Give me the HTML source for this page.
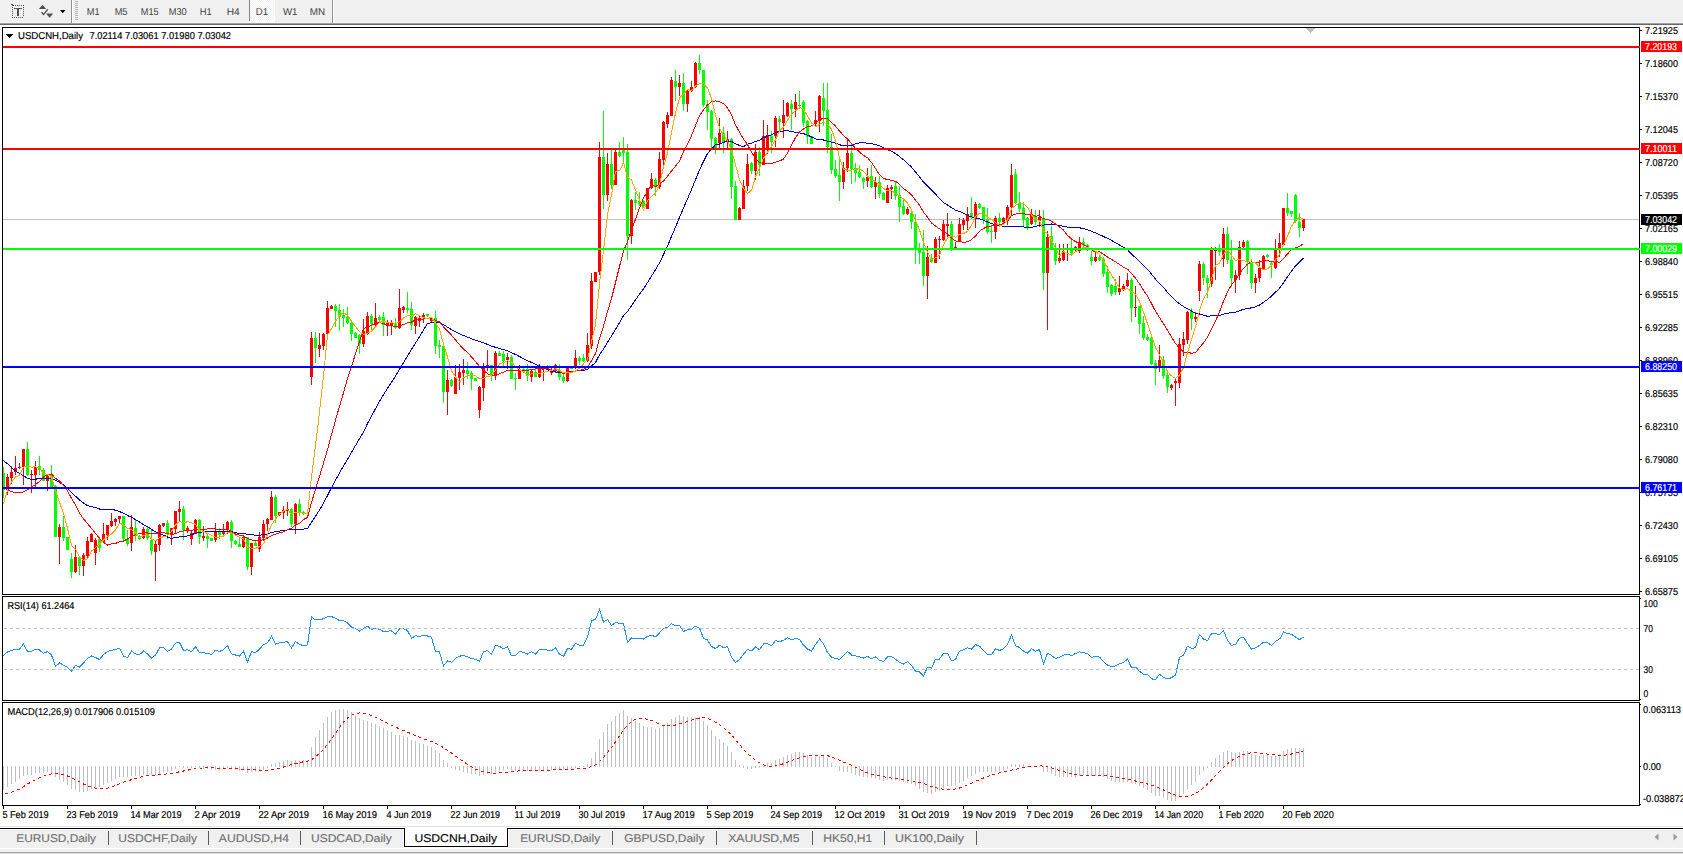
<!DOCTYPE html>
<html><head><meta charset="utf-8"><title>USDCNH,Daily</title>
<style>html,body{margin:0;padding:0;background:#fff;overflow:hidden}svg{display:block}body{font-family:"Liberation Sans",sans-serif}</style>
</head><body>
<svg width="1683" height="854" viewBox="0 0 1683 854" font-family="Liberation Sans, sans-serif" shape-rendering="crispEdges" text-rendering="geometricPrecision">
<rect x="0" y="0" width="1683" height="854" fill="#fff" />
<rect x="0" y="0" width="1683" height="23" fill="#f0f0f0" />
<rect x="0" y="22" width="1683" height="1" fill="#f6f6f6" />
<rect x="0" y="23" width="1683" height="1" fill="#a0a0a0" />
<rect x="0" y="24" width="1683" height="1" fill="#696969" />
<rect x="71" y="0" width="1" height="23" fill="#909090" />
<rect x="72" y="0" width="1" height="23" fill="#fff" />
<rect x="75" y="1" width="3" height="1" fill="#b4b4b4" />
<rect x="75" y="3" width="3" height="1" fill="#b4b4b4" />
<rect x="75" y="5" width="3" height="1" fill="#b4b4b4" />
<rect x="75" y="7" width="3" height="1" fill="#b4b4b4" />
<rect x="75" y="9" width="3" height="1" fill="#b4b4b4" />
<rect x="75" y="11" width="3" height="1" fill="#b4b4b4" />
<rect x="75" y="13" width="3" height="1" fill="#b4b4b4" />
<rect x="75" y="15" width="3" height="1" fill="#b4b4b4" />
<rect x="75" y="17" width="3" height="1" fill="#b4b4b4" />
<rect x="75" y="19" width="3" height="1" fill="#b4b4b4" />
<defs><pattern id="chk" width="2" height="2" patternUnits="userSpaceOnUse"><rect width="2" height="2" fill="#f0f0f0"/><rect width="1" height="1" fill="#fff"/><rect x="1" y="1" width="1" height="1" fill="#fff"/></pattern></defs>
<rect x="250" y="0" width="24" height="21" fill="url(#chk)" />
<rect x="249" y="0" width="1" height="21" fill="#808080" />
<rect x="249" y="21" width="26" height="1" fill="#fff" />
<rect x="274" y="0" width="1" height="22" fill="#fff" />
<rect x="332" y="0" width="1" height="23" fill="#909090" />
<rect x="333" y="0" width="1" height="23" fill="#fff" />
<rect x="15" y="5" width="1" height="1" fill="#505050" />
<rect x="17" y="5" width="1" height="1" fill="#505050" />
<rect x="19" y="5" width="1" height="1" fill="#505050" />
<rect x="21" y="5" width="1" height="1" fill="#505050" />
<rect x="23" y="5" width="1" height="1" fill="#505050" />
<rect x="12" y="17" width="1" height="1" fill="#505050" />
<rect x="14" y="17" width="1" height="1" fill="#505050" />
<rect x="16" y="17" width="1" height="1" fill="#505050" />
<rect x="18" y="17" width="1" height="1" fill="#505050" />
<rect x="20" y="17" width="1" height="1" fill="#505050" />
<rect x="22" y="17" width="1" height="1" fill="#505050" />
<rect x="12" y="7" width="1" height="1" fill="#505050" />
<rect x="23" y="7" width="1" height="1" fill="#505050" />
<rect x="12" y="9" width="1" height="1" fill="#505050" />
<rect x="23" y="9" width="1" height="1" fill="#505050" />
<rect x="12" y="11" width="1" height="1" fill="#505050" />
<rect x="23" y="11" width="1" height="1" fill="#505050" />
<rect x="12" y="13" width="1" height="1" fill="#505050" />
<rect x="23" y="13" width="1" height="1" fill="#505050" />
<rect x="12" y="15" width="1" height="1" fill="#505050" />
<rect x="23" y="15" width="1" height="1" fill="#505050" />
<rect x="11" y="4" width="2" height="1" fill="#505050" />
<rect x="12" y="5" width="2" height="1" fill="#505050" />
<rect x="14" y="8" width="8" height="1" fill="#505050" />
<rect x="17" y="8" width="2" height="8" fill="#505050" />
<path d="M38.8 9 L42.5 4.8 L46.2 9 Z" fill="#505050" shape-rendering="auto"/>
<path d="M46 13.4 L53.2 13.4 L49.6 17.8 Z" fill="#505050" shape-rendering="auto"/>
<path d="M41.5 12.2 L43.6 14.5 L47.8 9.3" stroke="#505050" stroke-width="1.3" fill="none" shape-rendering="auto"/>
<path d="M60 10 L65.5 10 L62.75 13.2 Z" fill="#000" shape-rendering="auto"/>
<text x="86.7" y="15" font-size="10" fill="#404040" stroke="#404040" stroke-width="0" textLength="12.9" lengthAdjust="spacingAndGlyphs" >M1</text>
<text x="114.7" y="15" font-size="10" fill="#404040" stroke="#404040" stroke-width="0" textLength="12.8" lengthAdjust="spacingAndGlyphs" >M5</text>
<text x="140.8" y="15" font-size="10" fill="#404040" stroke="#404040" stroke-width="0" textLength="17.9" lengthAdjust="spacingAndGlyphs" >M15</text>
<text x="168.7" y="15" font-size="10" fill="#404040" stroke="#404040" stroke-width="0" textLength="18.0" lengthAdjust="spacingAndGlyphs" >M30</text>
<text x="199.7" y="15" font-size="10" fill="#404040" stroke="#404040" stroke-width="0" textLength="12.0" lengthAdjust="spacingAndGlyphs" >H1</text>
<text x="226.7" y="15" font-size="10" fill="#404040" stroke="#404040" stroke-width="0" textLength="13.0" lengthAdjust="spacingAndGlyphs" >H4</text>
<text x="255.8" y="15" font-size="10" fill="#404040" stroke="#404040" stroke-width="0" textLength="12.2" lengthAdjust="spacingAndGlyphs" >D1</text>
<text x="283" y="15" font-size="10" fill="#404040" stroke="#404040" stroke-width="0" textLength="14.5" lengthAdjust="spacingAndGlyphs" >W1</text>
<text x="309.7" y="15" font-size="10" fill="#404040" stroke="#404040" stroke-width="0" textLength="15.3" lengthAdjust="spacingAndGlyphs" >MN</text>
<defs><clipPath id="indclip"><rect x="3" y="597" width="1636" height="208"/></clipPath></defs>
<defs><clipPath id="mainclip"><rect x="3" y="28" width="1636" height="566"/></clipPath></defs>
<rect x="1640" y="30" width="2" height="1" fill="#000" />
<text x="1645" y="34" font-size="10" fill="#000" stroke="#000" stroke-width="0.18" textLength="33" lengthAdjust="spacingAndGlyphs" >7.21925</text>
<rect x="1640" y="63" width="2" height="1" fill="#000" />
<text x="1645" y="67" font-size="10" fill="#000" stroke="#000" stroke-width="0.18" textLength="33" lengthAdjust="spacingAndGlyphs" >7.18600</text>
<rect x="1640" y="96" width="2" height="1" fill="#000" />
<text x="1645" y="100" font-size="10" fill="#000" stroke="#000" stroke-width="0.18" textLength="33" lengthAdjust="spacingAndGlyphs" >7.15370</text>
<rect x="1640" y="129" width="2" height="1" fill="#000" />
<text x="1645" y="133" font-size="10" fill="#000" stroke="#000" stroke-width="0.18" textLength="33" lengthAdjust="spacingAndGlyphs" >7.12045</text>
<rect x="1640" y="162" width="2" height="1" fill="#000" />
<text x="1645" y="166" font-size="10" fill="#000" stroke="#000" stroke-width="0.18" textLength="33" lengthAdjust="spacingAndGlyphs" >7.08720</text>
<rect x="1640" y="195" width="2" height="1" fill="#000" />
<text x="1645" y="199" font-size="10" fill="#000" stroke="#000" stroke-width="0.18" textLength="33" lengthAdjust="spacingAndGlyphs" >7.05395</text>
<rect x="1640" y="228" width="2" height="1" fill="#000" />
<text x="1645" y="232" font-size="10" fill="#000" stroke="#000" stroke-width="0.18" textLength="33" lengthAdjust="spacingAndGlyphs" >7.02165</text>
<rect x="1640" y="261" width="2" height="1" fill="#000" />
<text x="1645" y="265" font-size="10" fill="#000" stroke="#000" stroke-width="0.18" textLength="33" lengthAdjust="spacingAndGlyphs" >6.98840</text>
<rect x="1640" y="294" width="2" height="1" fill="#000" />
<text x="1645" y="298" font-size="10" fill="#000" stroke="#000" stroke-width="0.18" textLength="33" lengthAdjust="spacingAndGlyphs" >6.95515</text>
<rect x="1640" y="327" width="2" height="1" fill="#000" />
<text x="1645" y="331" font-size="10" fill="#000" stroke="#000" stroke-width="0.18" textLength="33" lengthAdjust="spacingAndGlyphs" >6.92285</text>
<rect x="1640" y="360" width="2" height="1" fill="#000" />
<text x="1645" y="364" font-size="10" fill="#000" stroke="#000" stroke-width="0.18" textLength="33" lengthAdjust="spacingAndGlyphs" >6.88960</text>
<rect x="1640" y="393" width="2" height="1" fill="#000" />
<text x="1645" y="397" font-size="10" fill="#000" stroke="#000" stroke-width="0.18" textLength="33" lengthAdjust="spacingAndGlyphs" >6.85635</text>
<rect x="1640" y="426" width="2" height="1" fill="#000" />
<text x="1645" y="430" font-size="10" fill="#000" stroke="#000" stroke-width="0.18" textLength="33" lengthAdjust="spacingAndGlyphs" >6.82310</text>
<rect x="1640" y="459" width="2" height="1" fill="#000" />
<text x="1645" y="463" font-size="10" fill="#000" stroke="#000" stroke-width="0.18" textLength="33" lengthAdjust="spacingAndGlyphs" >6.79080</text>
<rect x="1640" y="492" width="2" height="1" fill="#000" />
<text x="1645" y="496" font-size="10" fill="#000" stroke="#000" stroke-width="0.18" textLength="33" lengthAdjust="spacingAndGlyphs" >6.75755</text>
<rect x="1640" y="525" width="2" height="1" fill="#000" />
<text x="1645" y="529" font-size="10" fill="#000" stroke="#000" stroke-width="0.18" textLength="33" lengthAdjust="spacingAndGlyphs" >6.72430</text>
<rect x="1640" y="558" width="2" height="1" fill="#000" />
<text x="1645" y="562" font-size="10" fill="#000" stroke="#000" stroke-width="0.18" textLength="33" lengthAdjust="spacingAndGlyphs" >6.69105</text>
<rect x="1640" y="591" width="2" height="1" fill="#000" />
<text x="1645" y="595" font-size="10" fill="#000" stroke="#000" stroke-width="0.18" textLength="33" lengthAdjust="spacingAndGlyphs" >6.65875</text>
<rect x="3" y="219" width="1636" height="1" fill="#c0c0c0" />
<rect x="3" y="467" width="1" height="31" fill="#00ff00"/>
<rect x="2" y="473" width="3" height="17" fill="#00ff00"/>
<rect x="7" y="474" width="1" height="21" fill="#ff0000"/>
<rect x="6" y="477" width="3" height="11" fill="#ff0000"/>
<rect x="11" y="466" width="1" height="18" fill="#ff0000"/>
<rect x="10" y="472" width="3" height="6" fill="#ff0000"/>
<rect x="15" y="456" width="1" height="19" fill="#ff0000"/>
<rect x="14" y="468" width="3" height="4" fill="#ff0000"/>
<rect x="19" y="463" width="1" height="6" fill="#ff0000"/>
<rect x="18" y="467" width="3" height="1" fill="#ff0000"/>
<rect x="23" y="449" width="1" height="36" fill="#ff0000"/>
<rect x="22" y="449" width="3" height="18" fill="#ff0000"/>
<rect x="27" y="442" width="1" height="34" fill="#00ff00"/>
<rect x="26" y="449" width="3" height="26" fill="#00ff00"/>
<rect x="31" y="470" width="1" height="23" fill="#ff0000"/>
<rect x="30" y="474" width="3" height="1" fill="#ff0000"/>
<rect x="35" y="461" width="1" height="26" fill="#ff0000"/>
<rect x="34" y="467" width="3" height="8" fill="#ff0000"/>
<rect x="39" y="456" width="1" height="19" fill="#00ff00"/>
<rect x="38" y="466" width="3" height="4" fill="#00ff00"/>
<rect x="43" y="468" width="1" height="13" fill="#00ff00"/>
<rect x="42" y="470" width="3" height="11" fill="#00ff00"/>
<rect x="47" y="474" width="1" height="17" fill="#ff0000"/>
<rect x="46" y="476" width="3" height="5" fill="#ff0000"/>
<rect x="51" y="465" width="1" height="23" fill="#00ff00"/>
<rect x="50" y="474" width="3" height="13" fill="#00ff00"/>
<rect x="55" y="485" width="1" height="52" fill="#00ff00"/>
<rect x="54" y="486" width="3" height="51" fill="#00ff00"/>
<rect x="59" y="524" width="1" height="40" fill="#ff0000"/>
<rect x="58" y="527" width="3" height="10" fill="#ff0000"/>
<rect x="63" y="516" width="1" height="25" fill="#00ff00"/>
<rect x="62" y="527" width="3" height="11" fill="#00ff00"/>
<rect x="67" y="537" width="1" height="13" fill="#00ff00"/>
<rect x="66" y="537" width="3" height="13" fill="#00ff00"/>
<rect x="71" y="553" width="1" height="25" fill="#00ff00"/>
<rect x="70" y="559" width="3" height="13" fill="#00ff00"/>
<rect x="75" y="545" width="1" height="28" fill="#ff0000"/>
<rect x="74" y="557" width="3" height="15" fill="#ff0000"/>
<rect x="79" y="556" width="1" height="19" fill="#00ff00"/>
<rect x="78" y="557" width="3" height="9" fill="#00ff00"/>
<rect x="83" y="553" width="1" height="23" fill="#ff0000"/>
<rect x="82" y="555" width="3" height="11" fill="#ff0000"/>
<rect x="87" y="537" width="1" height="22" fill="#ff0000"/>
<rect x="86" y="541" width="3" height="15" fill="#ff0000"/>
<rect x="91" y="533" width="1" height="9" fill="#ff0000"/>
<rect x="90" y="534" width="3" height="8" fill="#ff0000"/>
<rect x="95" y="538" width="1" height="27" fill="#ff0000"/>
<rect x="94" y="540" width="3" height="13" fill="#ff0000"/>
<rect x="99" y="537" width="1" height="15" fill="#00ff00"/>
<rect x="98" y="539" width="3" height="9" fill="#00ff00"/>
<rect x="103" y="523" width="1" height="19" fill="#ff0000"/>
<rect x="102" y="534" width="3" height="8" fill="#ff0000"/>
<rect x="107" y="525" width="1" height="15" fill="#ff0000"/>
<rect x="106" y="525" width="3" height="10" fill="#ff0000"/>
<rect x="111" y="513" width="1" height="14" fill="#ff0000"/>
<rect x="110" y="521" width="3" height="5" fill="#ff0000"/>
<rect x="115" y="518" width="1" height="8" fill="#ff0000"/>
<rect x="114" y="519" width="3" height="3" fill="#ff0000"/>
<rect x="119" y="516" width="1" height="7" fill="#ff0000"/>
<rect x="118" y="516" width="3" height="3" fill="#ff0000"/>
<rect x="123" y="516" width="1" height="24" fill="#00ff00"/>
<rect x="122" y="516" width="3" height="23" fill="#00ff00"/>
<rect x="127" y="530" width="1" height="16" fill="#00ff00"/>
<rect x="126" y="539" width="3" height="5" fill="#00ff00"/>
<rect x="131" y="515" width="1" height="36" fill="#ff0000"/>
<rect x="130" y="527" width="3" height="16" fill="#ff0000"/>
<rect x="135" y="519" width="1" height="22" fill="#00ff00"/>
<rect x="134" y="528" width="3" height="8" fill="#00ff00"/>
<rect x="139" y="535" width="1" height="5" fill="#00ff00"/>
<rect x="138" y="536" width="3" height="3" fill="#00ff00"/>
<rect x="143" y="527" width="1" height="12" fill="#ff0000"/>
<rect x="142" y="529" width="3" height="9" fill="#ff0000"/>
<rect x="147" y="526" width="1" height="14" fill="#00ff00"/>
<rect x="146" y="529" width="3" height="9" fill="#00ff00"/>
<rect x="151" y="529" width="1" height="26" fill="#00ff00"/>
<rect x="150" y="540" width="3" height="11" fill="#00ff00"/>
<rect x="155" y="541" width="1" height="40" fill="#ff0000"/>
<rect x="154" y="544" width="3" height="8" fill="#ff0000"/>
<rect x="159" y="524" width="1" height="27" fill="#ff0000"/>
<rect x="158" y="525" width="3" height="20" fill="#ff0000"/>
<rect x="163" y="523" width="1" height="4" fill="#ff0000"/>
<rect x="162" y="523" width="3" height="3" fill="#ff0000"/>
<rect x="167" y="520" width="1" height="19" fill="#00ff00"/>
<rect x="166" y="523" width="3" height="11" fill="#00ff00"/>
<rect x="171" y="528" width="1" height="17" fill="#ff0000"/>
<rect x="170" y="528" width="3" height="7" fill="#ff0000"/>
<rect x="175" y="511" width="1" height="23" fill="#ff0000"/>
<rect x="174" y="511" width="3" height="18" fill="#ff0000"/>
<rect x="179" y="501" width="1" height="21" fill="#ff0000"/>
<rect x="178" y="509" width="3" height="3" fill="#ff0000"/>
<rect x="183" y="506" width="1" height="34" fill="#00ff00"/>
<rect x="182" y="509" width="3" height="21" fill="#00ff00"/>
<rect x="187" y="526" width="1" height="7" fill="#ff0000"/>
<rect x="186" y="528" width="3" height="3" fill="#ff0000"/>
<rect x="191" y="530" width="1" height="15" fill="#ff0000"/>
<rect x="190" y="533" width="3" height="6" fill="#ff0000"/>
<rect x="195" y="519" width="1" height="14" fill="#ff0000"/>
<rect x="194" y="520" width="3" height="13" fill="#ff0000"/>
<rect x="199" y="519" width="1" height="25" fill="#00ff00"/>
<rect x="198" y="520" width="3" height="17" fill="#00ff00"/>
<rect x="203" y="526" width="1" height="15" fill="#ff0000"/>
<rect x="202" y="536" width="3" height="2" fill="#ff0000"/>
<rect x="207" y="534" width="1" height="14" fill="#00ff00"/>
<rect x="206" y="536" width="3" height="3" fill="#00ff00"/>
<rect x="211" y="538" width="1" height="3" fill="#00ff00"/>
<rect x="210" y="538" width="3" height="3" fill="#00ff00"/>
<rect x="215" y="523" width="1" height="19" fill="#ff0000"/>
<rect x="214" y="532" width="3" height="8" fill="#ff0000"/>
<rect x="219" y="528" width="1" height="11" fill="#00ff00"/>
<rect x="218" y="531" width="3" height="4" fill="#00ff00"/>
<rect x="223" y="524" width="1" height="11" fill="#ff0000"/>
<rect x="222" y="531" width="3" height="3" fill="#ff0000"/>
<rect x="227" y="521" width="1" height="13" fill="#ff0000"/>
<rect x="226" y="522" width="3" height="7" fill="#ff0000"/>
<rect x="231" y="520" width="1" height="28" fill="#00ff00"/>
<rect x="230" y="522" width="3" height="19" fill="#00ff00"/>
<rect x="235" y="540" width="1" height="5" fill="#00ff00"/>
<rect x="234" y="541" width="3" height="3" fill="#00ff00"/>
<rect x="239" y="538" width="1" height="9" fill="#00ff00"/>
<rect x="238" y="544" width="3" height="3" fill="#00ff00"/>
<rect x="243" y="536" width="1" height="12" fill="#ff0000"/>
<rect x="242" y="537" width="3" height="10" fill="#ff0000"/>
<rect x="247" y="537" width="1" height="33" fill="#00ff00"/>
<rect x="246" y="537" width="3" height="30" fill="#00ff00"/>
<rect x="251" y="543" width="1" height="32" fill="#ff0000"/>
<rect x="250" y="543" width="3" height="24" fill="#ff0000"/>
<rect x="255" y="540" width="1" height="6" fill="#00ff00"/>
<rect x="254" y="543" width="3" height="3" fill="#00ff00"/>
<rect x="259" y="532" width="1" height="20" fill="#ff0000"/>
<rect x="258" y="537" width="3" height="12" fill="#ff0000"/>
<rect x="263" y="520" width="1" height="21" fill="#ff0000"/>
<rect x="262" y="524" width="3" height="14" fill="#ff0000"/>
<rect x="267" y="518" width="1" height="13" fill="#ff0000"/>
<rect x="266" y="519" width="3" height="5" fill="#ff0000"/>
<rect x="271" y="491" width="1" height="29" fill="#ff0000"/>
<rect x="270" y="497" width="3" height="23" fill="#ff0000"/>
<rect x="275" y="495" width="1" height="28" fill="#00ff00"/>
<rect x="274" y="497" width="3" height="19" fill="#00ff00"/>
<rect x="279" y="512" width="1" height="4" fill="#ff0000"/>
<rect x="278" y="512" width="3" height="3" fill="#ff0000"/>
<rect x="283" y="506" width="1" height="13" fill="#ff0000"/>
<rect x="282" y="510" width="3" height="3" fill="#ff0000"/>
<rect x="287" y="502" width="1" height="14" fill="#ff0000"/>
<rect x="286" y="509" width="3" height="2" fill="#ff0000"/>
<rect x="291" y="508" width="1" height="19" fill="#00ff00"/>
<rect x="290" y="509" width="3" height="15" fill="#00ff00"/>
<rect x="295" y="503" width="1" height="31" fill="#ff0000"/>
<rect x="294" y="504" width="3" height="20" fill="#ff0000"/>
<rect x="299" y="499" width="1" height="17" fill="#00ff00"/>
<rect x="298" y="504" width="3" height="8" fill="#00ff00"/>
<rect x="303" y="511" width="1" height="4" fill="#00ff00"/>
<rect x="302" y="512" width="3" height="2" fill="#00ff00"/>
<rect x="307" y="513" width="1" height="1" fill="#ff0000"/>
<rect x="306" y="513" width="3" height="1" fill="#ff0000"/>
<rect x="311" y="332" width="1" height="53" fill="#ff0000"/>
<rect x="310" y="338" width="3" height="39" fill="#ff0000"/>
<rect x="315" y="332" width="1" height="31" fill="#00ff00"/>
<rect x="314" y="338" width="3" height="10" fill="#00ff00"/>
<rect x="319" y="333" width="1" height="24" fill="#ff0000"/>
<rect x="318" y="345" width="3" height="4" fill="#ff0000"/>
<rect x="323" y="333" width="1" height="17" fill="#ff0000"/>
<rect x="322" y="334" width="3" height="12" fill="#ff0000"/>
<rect x="327" y="301" width="1" height="33" fill="#ff0000"/>
<rect x="326" y="308" width="3" height="26" fill="#ff0000"/>
<rect x="331" y="305" width="1" height="4" fill="#ff0000"/>
<rect x="330" y="306" width="3" height="3" fill="#ff0000"/>
<rect x="335" y="304" width="1" height="23" fill="#00ff00"/>
<rect x="334" y="306" width="3" height="5" fill="#00ff00"/>
<rect x="339" y="304" width="1" height="27" fill="#00ff00"/>
<rect x="338" y="310" width="3" height="7" fill="#00ff00"/>
<rect x="343" y="309" width="1" height="18" fill="#00ff00"/>
<rect x="342" y="315" width="3" height="3" fill="#00ff00"/>
<rect x="347" y="307" width="1" height="17" fill="#00ff00"/>
<rect x="346" y="317" width="3" height="6" fill="#00ff00"/>
<rect x="351" y="322" width="1" height="19" fill="#00ff00"/>
<rect x="350" y="323" width="3" height="11" fill="#00ff00"/>
<rect x="355" y="332" width="1" height="6" fill="#00ff00"/>
<rect x="354" y="333" width="3" height="5" fill="#00ff00"/>
<rect x="359" y="334" width="1" height="20" fill="#00ff00"/>
<rect x="358" y="335" width="3" height="9" fill="#00ff00"/>
<rect x="363" y="319" width="1" height="28" fill="#ff0000"/>
<rect x="362" y="331" width="3" height="13" fill="#ff0000"/>
<rect x="367" y="312" width="1" height="23" fill="#ff0000"/>
<rect x="366" y="316" width="3" height="18" fill="#ff0000"/>
<rect x="371" y="314" width="1" height="16" fill="#00ff00"/>
<rect x="370" y="316" width="3" height="8" fill="#00ff00"/>
<rect x="375" y="303" width="1" height="24" fill="#ff0000"/>
<rect x="374" y="318" width="3" height="7" fill="#ff0000"/>
<rect x="379" y="315" width="1" height="7" fill="#00ff00"/>
<rect x="378" y="317" width="3" height="3" fill="#00ff00"/>
<rect x="383" y="312" width="1" height="24" fill="#00ff00"/>
<rect x="382" y="317" width="3" height="8" fill="#00ff00"/>
<rect x="387" y="320" width="1" height="16" fill="#ff0000"/>
<rect x="386" y="323" width="3" height="3" fill="#ff0000"/>
<rect x="391" y="320" width="1" height="15" fill="#ff0000"/>
<rect x="390" y="322" width="3" height="4" fill="#ff0000"/>
<rect x="395" y="318" width="1" height="11" fill="#00ff00"/>
<rect x="394" y="323" width="3" height="5" fill="#00ff00"/>
<rect x="399" y="289" width="1" height="40" fill="#ff0000"/>
<rect x="398" y="308" width="3" height="20" fill="#ff0000"/>
<rect x="403" y="306" width="1" height="7" fill="#ff0000"/>
<rect x="402" y="307" width="3" height="3" fill="#ff0000"/>
<rect x="407" y="292" width="1" height="21" fill="#00ff00"/>
<rect x="406" y="308" width="3" height="2" fill="#00ff00"/>
<rect x="411" y="302" width="1" height="28" fill="#00ff00"/>
<rect x="410" y="309" width="3" height="16" fill="#00ff00"/>
<rect x="415" y="316" width="1" height="18" fill="#ff0000"/>
<rect x="414" y="317" width="3" height="9" fill="#ff0000"/>
<rect x="419" y="316" width="1" height="11" fill="#ff0000"/>
<rect x="418" y="318" width="3" height="3" fill="#ff0000"/>
<rect x="423" y="313" width="1" height="10" fill="#ff0000"/>
<rect x="422" y="315" width="3" height="2" fill="#ff0000"/>
<rect x="427" y="314" width="1" height="3" fill="#00ff00"/>
<rect x="426" y="314" width="3" height="2" fill="#00ff00"/>
<rect x="431" y="317" width="1" height="5" fill="#ff0000"/>
<rect x="430" y="318" width="3" height="3" fill="#ff0000"/>
<rect x="435" y="311" width="1" height="43" fill="#00ff00"/>
<rect x="434" y="318" width="3" height="28" fill="#00ff00"/>
<rect x="439" y="340" width="1" height="18" fill="#00ff00"/>
<rect x="438" y="345" width="3" height="2" fill="#00ff00"/>
<rect x="443" y="345" width="1" height="58" fill="#00ff00"/>
<rect x="442" y="346" width="3" height="46" fill="#00ff00"/>
<rect x="447" y="370" width="1" height="45" fill="#ff0000"/>
<rect x="446" y="380" width="3" height="12" fill="#ff0000"/>
<rect x="451" y="379" width="1" height="8" fill="#00ff00"/>
<rect x="450" y="380" width="3" height="6" fill="#00ff00"/>
<rect x="455" y="365" width="1" height="29" fill="#ff0000"/>
<rect x="454" y="377" width="3" height="17" fill="#ff0000"/>
<rect x="459" y="364" width="1" height="26" fill="#ff0000"/>
<rect x="458" y="372" width="3" height="6" fill="#ff0000"/>
<rect x="463" y="359" width="1" height="26" fill="#ff0000"/>
<rect x="462" y="370" width="3" height="3" fill="#ff0000"/>
<rect x="467" y="362" width="1" height="17" fill="#00ff00"/>
<rect x="466" y="370" width="3" height="4" fill="#00ff00"/>
<rect x="471" y="371" width="1" height="19" fill="#00ff00"/>
<rect x="470" y="373" width="3" height="6" fill="#00ff00"/>
<rect x="475" y="378" width="1" height="3" fill="#00ff00"/>
<rect x="474" y="378" width="3" height="3" fill="#00ff00"/>
<rect x="479" y="386" width="1" height="32" fill="#ff0000"/>
<rect x="478" y="387" width="3" height="23" fill="#ff0000"/>
<rect x="483" y="363" width="1" height="38" fill="#ff0000"/>
<rect x="482" y="368" width="3" height="20" fill="#ff0000"/>
<rect x="487" y="350" width="1" height="21" fill="#ff0000"/>
<rect x="486" y="365" width="3" height="3" fill="#ff0000"/>
<rect x="491" y="365" width="1" height="16" fill="#00ff00"/>
<rect x="490" y="365" width="3" height="10" fill="#00ff00"/>
<rect x="495" y="351" width="1" height="29" fill="#ff0000"/>
<rect x="494" y="353" width="3" height="23" fill="#ff0000"/>
<rect x="499" y="351" width="1" height="5" fill="#00ff00"/>
<rect x="498" y="353" width="3" height="3" fill="#00ff00"/>
<rect x="503" y="351" width="1" height="15" fill="#00ff00"/>
<rect x="502" y="354" width="3" height="7" fill="#00ff00"/>
<rect x="507" y="353" width="1" height="16" fill="#ff0000"/>
<rect x="506" y="357" width="3" height="3" fill="#ff0000"/>
<rect x="511" y="355" width="1" height="24" fill="#00ff00"/>
<rect x="510" y="357" width="3" height="22" fill="#00ff00"/>
<rect x="515" y="373" width="1" height="17" fill="#00ff00"/>
<rect x="514" y="378" width="3" height="1" fill="#00ff00"/>
<rect x="519" y="365" width="1" height="14" fill="#ff0000"/>
<rect x="518" y="369" width="3" height="10" fill="#ff0000"/>
<rect x="523" y="368" width="1" height="5" fill="#00ff00"/>
<rect x="522" y="369" width="3" height="3" fill="#00ff00"/>
<rect x="527" y="364" width="1" height="17" fill="#00ff00"/>
<rect x="526" y="369" width="3" height="7" fill="#00ff00"/>
<rect x="531" y="370" width="1" height="12" fill="#ff0000"/>
<rect x="530" y="371" width="3" height="6" fill="#ff0000"/>
<rect x="535" y="369" width="1" height="8" fill="#00ff00"/>
<rect x="534" y="372" width="3" height="5" fill="#00ff00"/>
<rect x="539" y="364" width="1" height="14" fill="#ff0000"/>
<rect x="538" y="368" width="3" height="9" fill="#ff0000"/>
<rect x="543" y="368" width="1" height="13" fill="#ff0000"/>
<rect x="542" y="368" width="3" height="1" fill="#ff0000"/>
<rect x="547" y="365" width="1" height="4" fill="#00ff00"/>
<rect x="546" y="367" width="3" height="2" fill="#00ff00"/>
<rect x="551" y="368" width="1" height="7" fill="#ff0000"/>
<rect x="550" y="370" width="3" height="3" fill="#ff0000"/>
<rect x="555" y="364" width="1" height="9" fill="#ff0000"/>
<rect x="554" y="365" width="3" height="4" fill="#ff0000"/>
<rect x="559" y="364" width="1" height="16" fill="#00ff00"/>
<rect x="558" y="370" width="3" height="7" fill="#00ff00"/>
<rect x="563" y="373" width="1" height="10" fill="#00ff00"/>
<rect x="562" y="377" width="3" height="4" fill="#00ff00"/>
<rect x="567" y="368" width="1" height="14" fill="#ff0000"/>
<rect x="566" y="368" width="3" height="13" fill="#ff0000"/>
<rect x="571" y="367" width="1" height="2" fill="#00ff00"/>
<rect x="570" y="368" width="3" height="1" fill="#00ff00"/>
<rect x="575" y="350" width="1" height="19" fill="#ff0000"/>
<rect x="574" y="358" width="3" height="9" fill="#ff0000"/>
<rect x="579" y="356" width="1" height="9" fill="#00ff00"/>
<rect x="578" y="358" width="3" height="3" fill="#00ff00"/>
<rect x="583" y="354" width="1" height="8" fill="#00ff00"/>
<rect x="582" y="358" width="3" height="3" fill="#00ff00"/>
<rect x="587" y="333" width="1" height="29" fill="#ff0000"/>
<rect x="586" y="345" width="3" height="16" fill="#ff0000"/>
<rect x="591" y="273" width="1" height="76" fill="#ff0000"/>
<rect x="590" y="281" width="3" height="65" fill="#ff0000"/>
<rect x="595" y="272" width="1" height="10" fill="#ff0000"/>
<rect x="594" y="272" width="3" height="10" fill="#ff0000"/>
<rect x="599" y="142" width="1" height="133" fill="#ff0000"/>
<rect x="598" y="157" width="3" height="115" fill="#ff0000"/>
<rect x="603" y="111" width="1" height="98" fill="#00ff00"/>
<rect x="602" y="157" width="3" height="38" fill="#00ff00"/>
<rect x="607" y="153" width="1" height="48" fill="#ff0000"/>
<rect x="606" y="164" width="3" height="31" fill="#ff0000"/>
<rect x="611" y="150" width="1" height="39" fill="#00ff00"/>
<rect x="610" y="164" width="3" height="21" fill="#00ff00"/>
<rect x="615" y="149" width="1" height="36" fill="#ff0000"/>
<rect x="614" y="152" width="3" height="33" fill="#ff0000"/>
<rect x="619" y="142" width="1" height="15" fill="#00ff00"/>
<rect x="618" y="152" width="3" height="4" fill="#00ff00"/>
<rect x="623" y="137" width="1" height="26" fill="#00ff00"/>
<rect x="622" y="149" width="3" height="4" fill="#00ff00"/>
<rect x="627" y="144" width="1" height="116" fill="#00ff00"/>
<rect x="626" y="152" width="3" height="84" fill="#00ff00"/>
<rect x="631" y="199" width="1" height="45" fill="#ff0000"/>
<rect x="630" y="200" width="3" height="36" fill="#ff0000"/>
<rect x="635" y="192" width="1" height="18" fill="#00ff00"/>
<rect x="634" y="200" width="3" height="3" fill="#00ff00"/>
<rect x="639" y="192" width="1" height="14" fill="#00ff00"/>
<rect x="638" y="201" width="3" height="3" fill="#00ff00"/>
<rect x="643" y="200" width="1" height="8" fill="#00ff00"/>
<rect x="642" y="201" width="3" height="5" fill="#00ff00"/>
<rect x="647" y="188" width="1" height="21" fill="#ff0000"/>
<rect x="646" y="188" width="3" height="21" fill="#ff0000"/>
<rect x="651" y="173" width="1" height="16" fill="#ff0000"/>
<rect x="650" y="179" width="3" height="9" fill="#ff0000"/>
<rect x="655" y="178" width="1" height="18" fill="#00ff00"/>
<rect x="654" y="180" width="3" height="6" fill="#00ff00"/>
<rect x="659" y="152" width="1" height="37" fill="#ff0000"/>
<rect x="658" y="159" width="3" height="28" fill="#ff0000"/>
<rect x="663" y="121" width="1" height="44" fill="#ff0000"/>
<rect x="662" y="122" width="3" height="38" fill="#ff0000"/>
<rect x="667" y="112" width="1" height="16" fill="#ff0000"/>
<rect x="666" y="115" width="3" height="9" fill="#ff0000"/>
<rect x="671" y="77" width="1" height="39" fill="#ff0000"/>
<rect x="670" y="80" width="3" height="36" fill="#ff0000"/>
<rect x="675" y="70" width="1" height="31" fill="#00ff00"/>
<rect x="674" y="81" width="3" height="6" fill="#00ff00"/>
<rect x="679" y="75" width="1" height="21" fill="#ff0000"/>
<rect x="678" y="83" width="3" height="4" fill="#ff0000"/>
<rect x="683" y="73" width="1" height="38" fill="#00ff00"/>
<rect x="682" y="83" width="3" height="21" fill="#00ff00"/>
<rect x="687" y="90" width="1" height="22" fill="#ff0000"/>
<rect x="686" y="91" width="3" height="13" fill="#ff0000"/>
<rect x="691" y="81" width="1" height="11" fill="#ff0000"/>
<rect x="690" y="87" width="3" height="4" fill="#ff0000"/>
<rect x="695" y="62" width="1" height="26" fill="#ff0000"/>
<rect x="694" y="63" width="3" height="24" fill="#ff0000"/>
<rect x="699" y="55" width="1" height="19" fill="#00ff00"/>
<rect x="698" y="63" width="3" height="7" fill="#00ff00"/>
<rect x="703" y="70" width="1" height="37" fill="#00ff00"/>
<rect x="702" y="70" width="3" height="35" fill="#00ff00"/>
<rect x="707" y="100" width="1" height="30" fill="#00ff00"/>
<rect x="706" y="104" width="3" height="8" fill="#00ff00"/>
<rect x="711" y="110" width="1" height="38" fill="#00ff00"/>
<rect x="710" y="111" width="3" height="28" fill="#00ff00"/>
<rect x="715" y="137" width="1" height="17" fill="#00ff00"/>
<rect x="714" y="138" width="3" height="10" fill="#00ff00"/>
<rect x="719" y="118" width="1" height="30" fill="#ff0000"/>
<rect x="718" y="133" width="3" height="10" fill="#ff0000"/>
<rect x="723" y="127" width="1" height="26" fill="#00ff00"/>
<rect x="722" y="133" width="3" height="9" fill="#00ff00"/>
<rect x="727" y="131" width="1" height="17" fill="#ff0000"/>
<rect x="726" y="139" width="3" height="3" fill="#ff0000"/>
<rect x="731" y="138" width="1" height="61" fill="#00ff00"/>
<rect x="730" y="139" width="3" height="48" fill="#00ff00"/>
<rect x="735" y="181" width="1" height="39" fill="#00ff00"/>
<rect x="734" y="186" width="3" height="34" fill="#00ff00"/>
<rect x="739" y="207" width="1" height="13" fill="#ff0000"/>
<rect x="738" y="208" width="3" height="12" fill="#ff0000"/>
<rect x="743" y="180" width="1" height="29" fill="#ff0000"/>
<rect x="742" y="186" width="3" height="23" fill="#ff0000"/>
<rect x="747" y="154" width="1" height="37" fill="#ff0000"/>
<rect x="746" y="164" width="3" height="22" fill="#ff0000"/>
<rect x="751" y="162" width="1" height="12" fill="#00ff00"/>
<rect x="750" y="163" width="3" height="8" fill="#00ff00"/>
<rect x="755" y="144" width="1" height="36" fill="#ff0000"/>
<rect x="754" y="152" width="3" height="19" fill="#ff0000"/>
<rect x="759" y="147" width="1" height="29" fill="#00ff00"/>
<rect x="758" y="152" width="3" height="13" fill="#00ff00"/>
<rect x="763" y="120" width="1" height="45" fill="#ff0000"/>
<rect x="762" y="136" width="3" height="29" fill="#ff0000"/>
<rect x="767" y="125" width="1" height="29" fill="#ff0000"/>
<rect x="766" y="135" width="3" height="13" fill="#ff0000"/>
<rect x="771" y="131" width="1" height="22" fill="#00ff00"/>
<rect x="770" y="136" width="3" height="6" fill="#00ff00"/>
<rect x="775" y="116" width="1" height="31" fill="#ff0000"/>
<rect x="774" y="118" width="3" height="18" fill="#ff0000"/>
<rect x="779" y="116" width="1" height="14" fill="#00ff00"/>
<rect x="778" y="119" width="3" height="3" fill="#00ff00"/>
<rect x="783" y="100" width="1" height="38" fill="#ff0000"/>
<rect x="782" y="115" width="3" height="8" fill="#ff0000"/>
<rect x="787" y="102" width="1" height="15" fill="#ff0000"/>
<rect x="786" y="103" width="3" height="13" fill="#ff0000"/>
<rect x="791" y="100" width="1" height="30" fill="#00ff00"/>
<rect x="790" y="104" width="3" height="5" fill="#00ff00"/>
<rect x="795" y="94" width="1" height="23" fill="#ff0000"/>
<rect x="794" y="102" width="3" height="7" fill="#ff0000"/>
<rect x="799" y="91" width="1" height="18" fill="#00ff00"/>
<rect x="798" y="105" width="3" height="1" fill="#00ff00"/>
<rect x="803" y="100" width="1" height="27" fill="#00ff00"/>
<rect x="802" y="102" width="3" height="21" fill="#00ff00"/>
<rect x="807" y="120" width="1" height="24" fill="#00ff00"/>
<rect x="806" y="121" width="3" height="16" fill="#00ff00"/>
<rect x="811" y="136" width="1" height="8" fill="#00ff00"/>
<rect x="810" y="136" width="3" height="8" fill="#00ff00"/>
<rect x="815" y="111" width="1" height="16" fill="#ff0000"/>
<rect x="814" y="120" width="3" height="4" fill="#ff0000"/>
<rect x="819" y="95" width="1" height="37" fill="#ff0000"/>
<rect x="818" y="96" width="3" height="25" fill="#ff0000"/>
<rect x="823" y="83" width="1" height="43" fill="#00ff00"/>
<rect x="822" y="98" width="3" height="13" fill="#00ff00"/>
<rect x="827" y="83" width="1" height="70" fill="#00ff00"/>
<rect x="826" y="110" width="3" height="37" fill="#00ff00"/>
<rect x="831" y="134" width="1" height="40" fill="#00ff00"/>
<rect x="830" y="147" width="3" height="23" fill="#00ff00"/>
<rect x="835" y="160" width="1" height="18" fill="#00ff00"/>
<rect x="834" y="169" width="3" height="7" fill="#00ff00"/>
<rect x="839" y="158" width="1" height="43" fill="#00ff00"/>
<rect x="838" y="175" width="3" height="7" fill="#00ff00"/>
<rect x="843" y="162" width="1" height="27" fill="#ff0000"/>
<rect x="842" y="168" width="3" height="14" fill="#ff0000"/>
<rect x="847" y="138" width="1" height="34" fill="#ff0000"/>
<rect x="846" y="153" width="3" height="15" fill="#ff0000"/>
<rect x="851" y="144" width="1" height="40" fill="#00ff00"/>
<rect x="850" y="153" width="3" height="16" fill="#00ff00"/>
<rect x="855" y="163" width="1" height="19" fill="#00ff00"/>
<rect x="854" y="168" width="3" height="5" fill="#00ff00"/>
<rect x="859" y="165" width="1" height="13" fill="#00ff00"/>
<rect x="858" y="172" width="3" height="5" fill="#00ff00"/>
<rect x="863" y="177" width="1" height="12" fill="#00ff00"/>
<rect x="862" y="178" width="3" height="4" fill="#00ff00"/>
<rect x="867" y="168" width="1" height="19" fill="#ff0000"/>
<rect x="866" y="177" width="3" height="4" fill="#ff0000"/>
<rect x="871" y="165" width="1" height="23" fill="#00ff00"/>
<rect x="870" y="176" width="3" height="11" fill="#00ff00"/>
<rect x="875" y="177" width="1" height="22" fill="#ff0000"/>
<rect x="874" y="182" width="3" height="5" fill="#ff0000"/>
<rect x="879" y="176" width="1" height="22" fill="#00ff00"/>
<rect x="878" y="182" width="3" height="12" fill="#00ff00"/>
<rect x="883" y="192" width="1" height="8" fill="#00ff00"/>
<rect x="882" y="193" width="3" height="7" fill="#00ff00"/>
<rect x="887" y="185" width="1" height="18" fill="#ff0000"/>
<rect x="886" y="188" width="3" height="15" fill="#ff0000"/>
<rect x="891" y="185" width="1" height="14" fill="#ff0000"/>
<rect x="890" y="187" width="3" height="2" fill="#ff0000"/>
<rect x="895" y="181" width="1" height="19" fill="#00ff00"/>
<rect x="894" y="186" width="3" height="10" fill="#00ff00"/>
<rect x="899" y="186" width="1" height="36" fill="#00ff00"/>
<rect x="898" y="195" width="3" height="12" fill="#00ff00"/>
<rect x="903" y="199" width="1" height="16" fill="#00ff00"/>
<rect x="902" y="206" width="3" height="8" fill="#00ff00"/>
<rect x="907" y="207" width="1" height="8" fill="#ff0000"/>
<rect x="906" y="209" width="3" height="5" fill="#ff0000"/>
<rect x="911" y="209" width="1" height="20" fill="#00ff00"/>
<rect x="910" y="213" width="3" height="9" fill="#00ff00"/>
<rect x="915" y="214" width="1" height="50" fill="#00ff00"/>
<rect x="914" y="222" width="3" height="27" fill="#00ff00"/>
<rect x="919" y="243" width="1" height="21" fill="#00ff00"/>
<rect x="918" y="249" width="3" height="4" fill="#00ff00"/>
<rect x="923" y="230" width="1" height="56" fill="#00ff00"/>
<rect x="922" y="252" width="3" height="24" fill="#00ff00"/>
<rect x="927" y="246" width="1" height="53" fill="#ff0000"/>
<rect x="926" y="257" width="3" height="19" fill="#ff0000"/>
<rect x="931" y="254" width="1" height="9" fill="#00ff00"/>
<rect x="930" y="258" width="3" height="4" fill="#00ff00"/>
<rect x="935" y="237" width="1" height="26" fill="#ff0000"/>
<rect x="934" y="239" width="3" height="24" fill="#ff0000"/>
<rect x="939" y="236" width="1" height="23" fill="#ff0000"/>
<rect x="938" y="239" width="3" height="1" fill="#ff0000"/>
<rect x="943" y="220" width="1" height="21" fill="#ff0000"/>
<rect x="942" y="224" width="3" height="16" fill="#ff0000"/>
<rect x="947" y="213" width="1" height="26" fill="#ff0000"/>
<rect x="946" y="224" width="3" height="2" fill="#ff0000"/>
<rect x="951" y="221" width="1" height="30" fill="#00ff00"/>
<rect x="950" y="224" width="3" height="26" fill="#00ff00"/>
<rect x="955" y="242" width="1" height="6" fill="#ff0000"/>
<rect x="954" y="247" width="3" height="1" fill="#ff0000"/>
<rect x="959" y="218" width="1" height="24" fill="#ff0000"/>
<rect x="958" y="224" width="3" height="18" fill="#ff0000"/>
<rect x="963" y="218" width="1" height="12" fill="#ff0000"/>
<rect x="962" y="220" width="3" height="5" fill="#ff0000"/>
<rect x="967" y="207" width="1" height="23" fill="#ff0000"/>
<rect x="966" y="214" width="3" height="7" fill="#ff0000"/>
<rect x="971" y="197" width="1" height="22" fill="#00ff00"/>
<rect x="970" y="213" width="3" height="5" fill="#00ff00"/>
<rect x="975" y="202" width="1" height="26" fill="#ff0000"/>
<rect x="974" y="204" width="3" height="14" fill="#ff0000"/>
<rect x="979" y="203" width="1" height="6" fill="#00ff00"/>
<rect x="978" y="204" width="3" height="4" fill="#00ff00"/>
<rect x="983" y="207" width="1" height="17" fill="#00ff00"/>
<rect x="982" y="207" width="3" height="13" fill="#00ff00"/>
<rect x="987" y="208" width="1" height="26" fill="#00ff00"/>
<rect x="986" y="219" width="3" height="13" fill="#00ff00"/>
<rect x="991" y="226" width="1" height="17" fill="#00ff00"/>
<rect x="990" y="231" width="3" height="1" fill="#00ff00"/>
<rect x="995" y="216" width="1" height="23" fill="#ff0000"/>
<rect x="994" y="218" width="3" height="14" fill="#ff0000"/>
<rect x="999" y="213" width="1" height="14" fill="#00ff00"/>
<rect x="998" y="218" width="3" height="4" fill="#00ff00"/>
<rect x="1003" y="217" width="1" height="6" fill="#ff0000"/>
<rect x="1002" y="218" width="3" height="4" fill="#ff0000"/>
<rect x="1007" y="205" width="1" height="20" fill="#ff0000"/>
<rect x="1006" y="207" width="3" height="14" fill="#ff0000"/>
<rect x="1011" y="164" width="1" height="51" fill="#ff0000"/>
<rect x="1010" y="175" width="3" height="32" fill="#ff0000"/>
<rect x="1015" y="169" width="1" height="35" fill="#00ff00"/>
<rect x="1014" y="174" width="3" height="29" fill="#00ff00"/>
<rect x="1019" y="192" width="1" height="20" fill="#00ff00"/>
<rect x="1018" y="203" width="3" height="6" fill="#00ff00"/>
<rect x="1023" y="202" width="1" height="25" fill="#00ff00"/>
<rect x="1022" y="208" width="3" height="12" fill="#00ff00"/>
<rect x="1027" y="217" width="1" height="13" fill="#00ff00"/>
<rect x="1026" y="218" width="3" height="9" fill="#00ff00"/>
<rect x="1031" y="209" width="1" height="16" fill="#ff0000"/>
<rect x="1030" y="214" width="3" height="10" fill="#ff0000"/>
<rect x="1035" y="210" width="1" height="15" fill="#00ff00"/>
<rect x="1034" y="216" width="3" height="6" fill="#00ff00"/>
<rect x="1039" y="210" width="1" height="17" fill="#ff0000"/>
<rect x="1038" y="217" width="3" height="4" fill="#ff0000"/>
<rect x="1043" y="210" width="1" height="80" fill="#00ff00"/>
<rect x="1042" y="219" width="3" height="54" fill="#00ff00"/>
<rect x="1047" y="231" width="1" height="99" fill="#ff0000"/>
<rect x="1046" y="237" width="3" height="36" fill="#ff0000"/>
<rect x="1051" y="226" width="1" height="23" fill="#00ff00"/>
<rect x="1050" y="236" width="3" height="12" fill="#00ff00"/>
<rect x="1055" y="243" width="1" height="22" fill="#00ff00"/>
<rect x="1054" y="248" width="3" height="13" fill="#00ff00"/>
<rect x="1059" y="244" width="1" height="19" fill="#ff0000"/>
<rect x="1058" y="258" width="3" height="3" fill="#ff0000"/>
<rect x="1063" y="244" width="1" height="17" fill="#ff0000"/>
<rect x="1062" y="251" width="3" height="9" fill="#ff0000"/>
<rect x="1067" y="244" width="1" height="17" fill="#ff0000"/>
<rect x="1066" y="248" width="3" height="2" fill="#ff0000"/>
<rect x="1071" y="239" width="1" height="17" fill="#00ff00"/>
<rect x="1070" y="248" width="3" height="5" fill="#00ff00"/>
<rect x="1075" y="246" width="1" height="5" fill="#ff0000"/>
<rect x="1074" y="247" width="3" height="3" fill="#ff0000"/>
<rect x="1079" y="237" width="1" height="16" fill="#ff0000"/>
<rect x="1078" y="242" width="3" height="9" fill="#ff0000"/>
<rect x="1083" y="238" width="1" height="9" fill="#00ff00"/>
<rect x="1082" y="242" width="3" height="3" fill="#00ff00"/>
<rect x="1087" y="244" width="1" height="7" fill="#00ff00"/>
<rect x="1086" y="245" width="3" height="3" fill="#00ff00"/>
<rect x="1091" y="251" width="1" height="14" fill="#00ff00"/>
<rect x="1090" y="257" width="3" height="4" fill="#00ff00"/>
<rect x="1095" y="252" width="1" height="10" fill="#ff0000"/>
<rect x="1094" y="257" width="3" height="4" fill="#ff0000"/>
<rect x="1099" y="256" width="1" height="5" fill="#00ff00"/>
<rect x="1098" y="257" width="3" height="3" fill="#00ff00"/>
<rect x="1103" y="257" width="1" height="20" fill="#00ff00"/>
<rect x="1102" y="259" width="3" height="15" fill="#00ff00"/>
<rect x="1107" y="266" width="1" height="27" fill="#00ff00"/>
<rect x="1106" y="272" width="3" height="15" fill="#00ff00"/>
<rect x="1111" y="284" width="1" height="12" fill="#00ff00"/>
<rect x="1110" y="285" width="3" height="9" fill="#00ff00"/>
<rect x="1115" y="279" width="1" height="16" fill="#00ff00"/>
<rect x="1114" y="286" width="3" height="6" fill="#00ff00"/>
<rect x="1119" y="276" width="1" height="19" fill="#ff0000"/>
<rect x="1118" y="288" width="3" height="4" fill="#ff0000"/>
<rect x="1123" y="284" width="1" height="7" fill="#ff0000"/>
<rect x="1122" y="286" width="3" height="3" fill="#ff0000"/>
<rect x="1127" y="273" width="1" height="14" fill="#ff0000"/>
<rect x="1126" y="280" width="3" height="6" fill="#ff0000"/>
<rect x="1131" y="278" width="1" height="44" fill="#00ff00"/>
<rect x="1130" y="280" width="3" height="28" fill="#00ff00"/>
<rect x="1135" y="286" width="1" height="31" fill="#ff0000"/>
<rect x="1134" y="307" width="3" height="1" fill="#ff0000"/>
<rect x="1139" y="306" width="1" height="28" fill="#00ff00"/>
<rect x="1138" y="306" width="3" height="18" fill="#00ff00"/>
<rect x="1143" y="316" width="1" height="24" fill="#00ff00"/>
<rect x="1142" y="323" width="3" height="15" fill="#00ff00"/>
<rect x="1147" y="334" width="1" height="7" fill="#00ff00"/>
<rect x="1146" y="337" width="3" height="3" fill="#00ff00"/>
<rect x="1151" y="336" width="1" height="29" fill="#00ff00"/>
<rect x="1150" y="338" width="3" height="26" fill="#00ff00"/>
<rect x="1155" y="360" width="1" height="25" fill="#00ff00"/>
<rect x="1154" y="363" width="3" height="6" fill="#00ff00"/>
<rect x="1159" y="345" width="1" height="27" fill="#ff0000"/>
<rect x="1158" y="360" width="3" height="8" fill="#ff0000"/>
<rect x="1163" y="356" width="1" height="23" fill="#00ff00"/>
<rect x="1162" y="360" width="3" height="16" fill="#00ff00"/>
<rect x="1167" y="371" width="1" height="22" fill="#00ff00"/>
<rect x="1166" y="375" width="3" height="12" fill="#00ff00"/>
<rect x="1171" y="384" width="1" height="6" fill="#ff0000"/>
<rect x="1170" y="385" width="3" height="3" fill="#ff0000"/>
<rect x="1175" y="378" width="1" height="28" fill="#ff0000"/>
<rect x="1174" y="381" width="3" height="2" fill="#ff0000"/>
<rect x="1179" y="338" width="1" height="50" fill="#ff0000"/>
<rect x="1178" y="344" width="3" height="39" fill="#ff0000"/>
<rect x="1183" y="332" width="1" height="24" fill="#ff0000"/>
<rect x="1182" y="339" width="3" height="6" fill="#ff0000"/>
<rect x="1187" y="311" width="1" height="33" fill="#ff0000"/>
<rect x="1186" y="312" width="3" height="28" fill="#ff0000"/>
<rect x="1191" y="308" width="1" height="22" fill="#00ff00"/>
<rect x="1190" y="311" width="3" height="8" fill="#00ff00"/>
<rect x="1195" y="312" width="1" height="10" fill="#ff0000"/>
<rect x="1194" y="317" width="3" height="2" fill="#ff0000"/>
<rect x="1199" y="261" width="1" height="40" fill="#ff0000"/>
<rect x="1198" y="264" width="3" height="27" fill="#ff0000"/>
<rect x="1203" y="262" width="1" height="23" fill="#00ff00"/>
<rect x="1202" y="264" width="3" height="14" fill="#00ff00"/>
<rect x="1207" y="275" width="1" height="23" fill="#00ff00"/>
<rect x="1206" y="278" width="3" height="5" fill="#00ff00"/>
<rect x="1211" y="247" width="1" height="40" fill="#ff0000"/>
<rect x="1210" y="250" width="3" height="34" fill="#ff0000"/>
<rect x="1215" y="247" width="1" height="33" fill="#ff0000"/>
<rect x="1214" y="250" width="3" height="1" fill="#ff0000"/>
<rect x="1219" y="244" width="1" height="12" fill="#00ff00"/>
<rect x="1218" y="249" width="3" height="3" fill="#00ff00"/>
<rect x="1223" y="228" width="1" height="39" fill="#ff0000"/>
<rect x="1222" y="234" width="3" height="25" fill="#ff0000"/>
<rect x="1227" y="227" width="1" height="37" fill="#00ff00"/>
<rect x="1226" y="234" width="3" height="26" fill="#00ff00"/>
<rect x="1231" y="240" width="1" height="47" fill="#00ff00"/>
<rect x="1230" y="260" width="3" height="18" fill="#00ff00"/>
<rect x="1235" y="270" width="1" height="23" fill="#ff0000"/>
<rect x="1234" y="275" width="3" height="5" fill="#ff0000"/>
<rect x="1239" y="241" width="1" height="39" fill="#ff0000"/>
<rect x="1238" y="247" width="3" height="28" fill="#ff0000"/>
<rect x="1243" y="240" width="1" height="8" fill="#ff0000"/>
<rect x="1242" y="242" width="3" height="5" fill="#ff0000"/>
<rect x="1247" y="240" width="1" height="34" fill="#00ff00"/>
<rect x="1246" y="241" width="3" height="21" fill="#00ff00"/>
<rect x="1251" y="259" width="1" height="30" fill="#00ff00"/>
<rect x="1250" y="262" width="3" height="21" fill="#00ff00"/>
<rect x="1255" y="274" width="1" height="19" fill="#ff0000"/>
<rect x="1254" y="278" width="3" height="5" fill="#ff0000"/>
<rect x="1259" y="260" width="1" height="22" fill="#ff0000"/>
<rect x="1258" y="268" width="3" height="10" fill="#ff0000"/>
<rect x="1263" y="255" width="1" height="15" fill="#ff0000"/>
<rect x="1262" y="256" width="3" height="13" fill="#ff0000"/>
<rect x="1267" y="254" width="1" height="4" fill="#00ff00"/>
<rect x="1266" y="255" width="3" height="2" fill="#00ff00"/>
<rect x="1271" y="262" width="1" height="16" fill="#00ff00"/>
<rect x="1270" y="263" width="3" height="2" fill="#00ff00"/>
<rect x="1275" y="239" width="1" height="30" fill="#ff0000"/>
<rect x="1274" y="250" width="3" height="18" fill="#ff0000"/>
<rect x="1279" y="233" width="1" height="24" fill="#ff0000"/>
<rect x="1278" y="243" width="3" height="7" fill="#ff0000"/>
<rect x="1283" y="208" width="1" height="37" fill="#ff0000"/>
<rect x="1282" y="208" width="3" height="37" fill="#ff0000"/>
<rect x="1287" y="193" width="1" height="23" fill="#00ff00"/>
<rect x="1286" y="208" width="3" height="5" fill="#00ff00"/>
<rect x="1291" y="211" width="1" height="6" fill="#00ff00"/>
<rect x="1290" y="211" width="3" height="3" fill="#00ff00"/>
<rect x="1295" y="194" width="1" height="29" fill="#00ff00"/>
<rect x="1294" y="195" width="3" height="26" fill="#00ff00"/>
<rect x="1299" y="213" width="1" height="24" fill="#00ff00"/>
<rect x="1298" y="222" width="3" height="6" fill="#00ff00"/>
<rect x="1303" y="219" width="1" height="12" fill="#ff0000"/>
<rect x="1302" y="219" width="3" height="9" fill="#ff0000"/>
<g clip-path="url(#mainclip)">
<polyline points="-0.5,455.8 3.5,460.6 7.5,463.7 11.5,467.6 15.5,470.9 19.5,473.3 23.5,475.7 27.5,478.4 31.5,479.3 35.5,479.2 39.5,478.4 43.5,478.4 47.5,478.3 51.5,478.2 55.5,480.4 59.5,482.3 63.5,485.0 67.5,488.2 71.5,492.4 75.5,496.2 79.5,500.0 83.5,503.0 87.5,505.6 91.5,506.6 95.5,507.5 99.5,509.0 103.5,509.7 107.5,509.1 111.5,509.4 115.5,510.2 119.5,511.6 123.5,513.2 127.5,515.5 131.5,517.3 135.5,519.6 139.5,522.0 143.5,524.6 147.5,526.7 151.5,529.3 155.5,531.9 159.5,533.7 163.5,535.1 167.5,537.0 171.5,538.4 175.5,537.5 179.5,536.9 183.5,536.7 187.5,535.9 191.5,534.6 195.5,533.4 199.5,532.4 203.5,531.8 207.5,531.7 211.5,532.0 215.5,531.7 219.5,531.3 223.5,531.2 227.5,531.1 231.5,531.7 235.5,532.6 239.5,533.6 243.5,533.5 247.5,534.3 251.5,534.8 255.5,535.2 259.5,535.1 263.5,534.9 267.5,534.3 271.5,532.5 275.5,531.6 279.5,531.1 283.5,530.7 287.5,529.9 291.5,529.7 295.5,529.5 299.5,529.6 303.5,529.1 307.5,528.6 311.5,522.1 315.5,516.3 319.5,509.9 323.5,503.2 327.5,495.5 331.5,487.7 335.5,480.3 339.5,473.0 343.5,465.9 347.5,459.3 351.5,452.4 355.5,445.5 359.5,438.8 363.5,431.9 367.5,423.5 371.5,416.2 375.5,408.6 379.5,401.4 383.5,394.8 387.5,388.2 391.5,382.4 395.5,376.1 399.5,369.3 403.5,362.6 407.5,355.9 411.5,349.3 415.5,343.1 419.5,336.6 423.5,330.0 427.5,323.4 431.5,322.7 435.5,322.7 439.5,322.7 443.5,324.7 447.5,327.1 451.5,329.7 455.5,331.9 459.5,333.8 463.5,335.5 467.5,337.2 471.5,338.7 475.5,340.1 479.5,341.6 483.5,342.8 487.5,344.4 491.5,346.1 495.5,347.3 499.5,348.5 503.5,349.7 507.5,350.8 511.5,352.7 515.5,354.4 519.5,356.5 523.5,358.6 527.5,360.8 531.5,362.4 535.5,364.4 539.5,366.0 543.5,367.8 547.5,369.6 551.5,371.3 555.5,371.9 559.5,372.9 563.5,372.6 567.5,372.2 571.5,371.6 575.5,371.0 579.5,370.6 583.5,370.3 587.5,369.3 591.5,366.1 595.5,362.4 599.5,354.8 603.5,349.0 607.5,342.3 611.5,336.0 615.5,329.3 619.5,322.6 623.5,315.7 627.5,311.6 631.5,305.7 635.5,299.8 639.5,294.3 643.5,288.8 647.5,282.5 651.5,276.1 655.5,269.7 659.5,262.8 663.5,254.6 667.5,246.1 671.5,236.4 675.5,227.2 679.5,217.4 683.5,208.1 687.5,198.9 691.5,189.5 695.5,179.7 699.5,170.0 703.5,161.4 707.5,153.7 711.5,148.9 715.5,144.8 719.5,144.0 723.5,142.2 727.5,141.4 731.5,141.5 735.5,143.7 739.5,145.5 743.5,146.6 747.5,144.2 751.5,143.2 755.5,141.5 759.5,140.2 763.5,137.9 767.5,136.1 771.5,134.9 775.5,132.6 779.5,131.4 783.5,131.1 787.5,130.7 791.5,131.7 795.5,132.2 799.5,133.0 803.5,133.6 807.5,135.1 811.5,137.0 815.5,138.9 819.5,139.8 823.5,140.0 827.5,141.2 831.5,142.2 835.5,143.1 839.5,144.8 843.5,145.6 847.5,146.1 851.5,145.5 855.5,143.9 859.5,142.9 863.5,142.8 867.5,143.2 871.5,143.7 875.5,144.7 879.5,145.7 883.5,147.8 887.5,149.6 891.5,151.1 895.5,153.7 899.5,156.5 903.5,159.8 907.5,163.4 911.5,167.1 915.5,172.0 919.5,176.9 923.5,182.0 927.5,186.0 931.5,190.0 935.5,193.9 939.5,198.7 943.5,202.5 947.5,205.0 951.5,207.7 955.5,210.1 959.5,211.5 963.5,213.2 967.5,215.2 971.5,216.9 975.5,217.9 979.5,218.9 983.5,220.2 987.5,222.0 991.5,223.5 995.5,224.7 999.5,225.7 1003.5,226.3 1007.5,226.9 1011.5,226.5 1015.5,226.7 1019.5,226.8 1023.5,227.0 1027.5,227.6 1031.5,227.3 1035.5,226.4 1039.5,225.2 1043.5,225.1 1047.5,224.5 1051.5,224.0 1055.5,224.7 1059.5,225.4 1063.5,226.3 1067.5,227.1 1071.5,227.2 1075.5,227.2 1079.5,227.8 1083.5,228.6 1087.5,229.7 1091.5,231.2 1095.5,232.9 1099.5,234.7 1103.5,236.5 1107.5,238.3 1111.5,240.4 1115.5,242.8 1119.5,245.0 1123.5,247.3 1127.5,249.7 1131.5,254.2 1135.5,257.6 1139.5,261.5 1143.5,265.4 1147.5,269.2 1151.5,274.2 1155.5,279.1 1159.5,283.8 1163.5,287.3 1167.5,292.3 1171.5,296.8 1175.5,300.8 1179.5,303.7 1183.5,306.6 1187.5,308.8 1191.5,311.0 1195.5,313.3 1199.5,314.0 1203.5,315.1 1207.5,316.3 1211.5,315.9 1215.5,315.7 1219.5,315.4 1223.5,314.1 1227.5,313.2 1231.5,312.7 1235.5,312.1 1239.5,310.7 1243.5,309.3 1247.5,308.7 1251.5,307.8 1255.5,306.9 1259.5,305.0 1263.5,302.3 1267.5,299.5 1271.5,296.2 1275.5,292.2 1279.5,288.3 1283.5,282.7 1287.5,276.9 1291.5,271.2 1295.5,265.9 1299.5,262.0 1303.5,258.0" fill="none" stroke="#0000cd" stroke-width="1" stroke-linejoin="round"/>
<polyline points="-0.5,484.8 3.5,487.4 7.5,489.5 11.5,491.6 15.5,492.8 19.5,493.0 23.5,491.9 27.5,489.8 31.5,487.2 35.5,484.5 39.5,481.5 43.5,477.1 47.5,474.5 51.5,474.0 55.5,478.4 59.5,481.0 63.5,485.4 67.5,490.9 71.5,498.4 75.5,504.8 79.5,513.1 83.5,518.9 87.5,523.6 91.5,528.4 95.5,533.4 99.5,538.2 103.5,542.4 107.5,545.1 111.5,543.9 115.5,543.4 119.5,541.8 123.5,541.0 127.5,539.0 131.5,536.9 135.5,534.7 139.5,533.6 143.5,532.7 147.5,533.0 151.5,533.8 155.5,533.5 159.5,532.9 163.5,532.7 167.5,533.6 171.5,534.3 175.5,533.9 179.5,531.8 183.5,530.8 187.5,530.9 191.5,530.6 195.5,529.3 199.5,529.9 203.5,529.7 207.5,528.9 211.5,528.6 215.5,529.1 219.5,530.0 223.5,529.8 227.5,529.4 231.5,531.5 235.5,534.0 239.5,535.2 243.5,535.9 247.5,538.3 251.5,539.9 255.5,540.6 259.5,540.6 263.5,539.6 267.5,538.0 271.5,535.5 275.5,534.1 279.5,532.8 283.5,531.9 287.5,529.6 291.5,528.2 295.5,525.1 299.5,523.4 303.5,519.6 307.5,517.4 311.5,502.6 315.5,489.1 319.5,476.3 323.5,463.1 327.5,449.6 331.5,434.6 335.5,420.2 339.5,406.4 343.5,392.8 347.5,378.4 351.5,366.3 355.5,353.9 359.5,341.7 363.5,328.7 367.5,327.1 371.5,325.4 375.5,323.5 379.5,322.5 383.5,323.7 387.5,324.9 391.5,325.7 395.5,326.5 399.5,325.8 403.5,324.6 407.5,322.9 411.5,322.0 415.5,320.1 419.5,319.1 423.5,319.1 427.5,318.5 431.5,318.5 435.5,320.4 439.5,321.9 443.5,326.9 447.5,331.0 451.5,335.1 455.5,340.1 459.5,344.7 463.5,349.0 467.5,352.5 471.5,356.9 475.5,361.4 479.5,366.6 483.5,370.3 487.5,373.6 491.5,375.7 495.5,376.1 499.5,373.6 503.5,372.2 507.5,370.1 511.5,370.3 515.5,370.8 519.5,370.7 523.5,370.6 527.5,370.4 531.5,369.6 535.5,368.9 539.5,368.9 543.5,369.1 547.5,368.7 551.5,369.9 555.5,370.6 559.5,371.7 563.5,373.4 567.5,372.6 571.5,371.9 575.5,371.1 579.5,370.4 583.5,369.3 587.5,367.4 591.5,360.6 595.5,353.7 599.5,338.6 603.5,326.2 607.5,311.5 611.5,298.6 615.5,282.6 619.5,266.5 623.5,251.1 627.5,241.6 631.5,230.4 635.5,219.1 639.5,207.9 643.5,197.9 647.5,191.3 651.5,184.6 655.5,186.7 659.5,184.1 663.5,181.1 667.5,176.1 671.5,171.0 675.5,166.1 679.5,161.1 683.5,151.6 687.5,143.9 691.5,135.6 695.5,125.5 699.5,115.8 703.5,109.9 707.5,105.1 711.5,101.7 715.5,100.9 719.5,101.7 723.5,103.6 727.5,107.9 731.5,115.0 735.5,124.8 739.5,132.2 743.5,139.0 747.5,144.5 751.5,152.2 755.5,158.1 759.5,162.4 763.5,164.1 767.5,163.8 771.5,163.4 775.5,162.3 779.5,160.9 783.5,159.1 787.5,153.1 791.5,145.2 795.5,137.6 799.5,131.9 803.5,129.0 807.5,126.6 811.5,126.0 815.5,122.8 819.5,119.9 823.5,118.2 827.5,118.6 831.5,122.3 835.5,126.1 839.5,130.9 843.5,135.6 847.5,138.7 851.5,143.5 855.5,148.3 859.5,152.1 863.5,155.4 867.5,157.7 871.5,162.5 875.5,168.6 879.5,174.6 883.5,178.4 887.5,179.6 891.5,180.4 895.5,181.4 899.5,184.2 903.5,188.6 907.5,191.4 911.5,194.9 915.5,200.1 919.5,205.1 923.5,212.2 927.5,217.2 931.5,222.9 935.5,226.1 939.5,228.9 943.5,231.5 947.5,234.1 951.5,238.0 955.5,240.9 959.5,241.6 963.5,242.4 967.5,241.8 971.5,239.6 975.5,236.1 979.5,231.2 983.5,228.6 987.5,226.4 991.5,225.9 995.5,224.4 999.5,224.3 1003.5,223.9 1007.5,220.8 1011.5,215.6 1015.5,214.1 1019.5,213.4 1023.5,213.8 1027.5,214.4 1031.5,215.1 1035.5,216.1 1039.5,215.9 1043.5,218.9 1047.5,219.2 1051.5,221.4 1055.5,224.1 1059.5,227.0 1063.5,230.1 1067.5,235.4 1071.5,238.9 1075.5,241.6 1079.5,243.2 1083.5,244.5 1087.5,246.9 1091.5,249.7 1095.5,252.6 1099.5,251.6 1103.5,254.3 1107.5,257.1 1111.5,259.4 1115.5,261.9 1119.5,264.5 1123.5,267.2 1127.5,269.1 1131.5,273.5 1135.5,278.1 1139.5,283.8 1143.5,290.2 1147.5,295.9 1151.5,303.5 1155.5,311.3 1159.5,317.4 1163.5,323.8 1167.5,330.4 1171.5,337.1 1175.5,343.7 1179.5,347.9 1183.5,352.1 1187.5,352.4 1191.5,353.2 1195.5,352.7 1199.5,347.4 1203.5,343.0 1207.5,337.2 1211.5,328.7 1215.5,320.9 1219.5,312.0 1223.5,301.1 1227.5,292.1 1231.5,284.8 1235.5,279.9 1239.5,273.3 1243.5,268.3 1247.5,264.2 1251.5,261.8 1255.5,262.8 1259.5,262.1 1263.5,260.1 1267.5,260.6 1271.5,261.7 1275.5,261.6 1279.5,262.2 1283.5,258.5 1287.5,253.9 1291.5,249.5 1295.5,247.6 1299.5,246.6 1303.5,243.6" fill="none" stroke="#ff0000" stroke-width="1" stroke-linejoin="round"/>
<polyline points="-0.5,507.9 3.5,503.4 7.5,490.3 11.5,482.3 15.5,477.0 19.5,475.3 23.5,467.1 27.5,466.7 31.5,467.1 35.5,466.9 39.5,467.5 43.5,473.9 47.5,474.1 51.5,476.7 55.5,490.7 59.5,502.1 63.5,513.5 67.5,528.3 71.5,545.3 75.5,549.3 79.5,557.1 83.5,560.5 87.5,558.7 91.5,551.1 95.5,547.7 99.5,544.1 103.5,539.9 107.5,536.7 111.5,534.1 115.5,529.9 119.5,523.5 123.5,524.5 127.5,528.3 131.5,529.5 135.5,532.9 139.5,537.5 143.5,535.5 147.5,534.3 151.5,539.1 155.5,540.7 159.5,537.9 163.5,536.7 167.5,535.9 171.5,531.3 175.5,524.7 179.5,521.5 183.5,522.9 187.5,521.7 191.5,522.7 195.5,524.5 199.5,530.1 203.5,531.3 207.5,533.5 211.5,535.1 215.5,537.5 219.5,537.1 223.5,536.1 227.5,532.7 231.5,532.7 235.5,535.1 239.5,537.5 243.5,538.7 247.5,547.7 251.5,548.1 255.5,548.5 259.5,546.5 263.5,543.9 267.5,534.3 271.5,525.1 275.5,519.1 279.5,514.1 283.5,511.3 287.5,509.3 291.5,514.7 295.5,512.3 299.5,512.3 303.5,513.1 307.5,513.9 311.5,476.7 315.5,445.5 319.5,412.1 323.5,376.1 327.5,335.1 331.5,328.7 335.5,321.3 339.5,315.7 343.5,312.5 347.5,315.5 351.5,321.1 355.5,326.5 359.5,331.9 363.5,334.5 367.5,333.1 371.5,331.1 375.5,327.1 379.5,322.3 383.5,321.1 387.5,322.5 391.5,322.1 395.5,324.1 399.5,321.7 403.5,318.1 407.5,315.5 411.5,316.1 415.5,313.9 419.5,315.9 423.5,317.5 427.5,318.7 431.5,317.3 435.5,323.1 439.5,328.9 443.5,344.3 447.5,357.1 451.5,370.7 455.5,376.9 459.5,381.9 463.5,377.5 467.5,376.3 471.5,374.9 475.5,375.7 479.5,378.7 483.5,378.3 487.5,376.5 491.5,375.7 495.5,370.1 499.5,363.9 503.5,362.5 507.5,360.9 511.5,361.7 515.5,366.9 519.5,369.5 523.5,371.7 527.5,375.5 531.5,373.9 535.5,373.5 539.5,373.3 543.5,372.5 547.5,371.1 551.5,370.9 555.5,368.5 559.5,370.3 563.5,372.9 567.5,372.7 571.5,372.5 575.5,371.1 579.5,367.9 583.5,363.9 587.5,359.3 591.5,341.7 595.5,324.5 599.5,283.7 603.5,250.5 607.5,214.3 611.5,195.1 615.5,171.1 619.5,170.9 623.5,162.5 627.5,176.9 631.5,179.9 635.5,190.1 639.5,199.7 643.5,210.3 647.5,200.7 651.5,196.5 655.5,193.1 659.5,184.1 663.5,167.3 667.5,152.7 671.5,132.9 675.5,113.1 679.5,97.9 683.5,94.3 687.5,89.5 691.5,90.9 695.5,86.1 699.5,83.5 703.5,83.7 707.5,87.9 711.5,98.3 715.5,115.3 719.5,127.9 723.5,135.3 727.5,140.7 731.5,150.3 735.5,164.7 739.5,179.7 743.5,188.5 747.5,193.5 751.5,190.3 755.5,176.7 759.5,168.1 763.5,158.1 767.5,152.3 771.5,146.5 775.5,139.7 779.5,131.1 783.5,126.9 787.5,120.5 791.5,113.9 795.5,110.7 799.5,107.5 803.5,109.1 807.5,115.9 811.5,122.9 815.5,126.5 819.5,124.5 823.5,122.1 827.5,124.1 831.5,129.3 835.5,140.5 839.5,157.7 843.5,169.1 847.5,170.3 851.5,170.1 855.5,169.5 859.5,168.5 863.5,171.3 867.5,176.1 871.5,179.7 875.5,181.5 879.5,184.9 883.5,188.5 887.5,190.7 891.5,190.7 895.5,193.5 899.5,196.1 903.5,198.9 907.5,203.1 911.5,210.1 915.5,220.7 919.5,229.9 923.5,242.3 927.5,251.9 931.5,259.9 935.5,257.9 939.5,255.1 943.5,244.7 947.5,238.1 951.5,235.7 955.5,237.3 959.5,234.3 963.5,233.5 967.5,231.5 971.5,225.1 975.5,216.5 979.5,213.3 983.5,213.3 987.5,216.9 991.5,219.7 995.5,222.5 999.5,225.3 1003.5,224.9 1007.5,219.9 1011.5,208.5 1015.5,205.5 1019.5,202.9 1023.5,203.3 1027.5,207.3 1031.5,215.1 1035.5,218.9 1039.5,220.5 1043.5,231.1 1047.5,233.1 1051.5,239.9 1055.5,247.7 1059.5,255.9 1063.5,251.5 1067.5,253.7 1071.5,254.7 1075.5,251.9 1079.5,248.7 1083.5,247.5 1087.5,247.5 1091.5,249.1 1095.5,251.1 1099.5,254.7 1103.5,260.5 1107.5,268.3 1111.5,274.9 1115.5,281.9 1119.5,287.5 1123.5,289.9 1127.5,288.5 1131.5,291.3 1135.5,294.3 1139.5,301.5 1143.5,311.9 1147.5,323.9 1151.5,335.1 1155.5,347.5 1159.5,354.7 1163.5,362.3 1167.5,371.7 1171.5,375.9 1175.5,378.3 1179.5,375.1 1183.5,367.7 1187.5,352.7 1191.5,339.5 1195.5,326.7 1199.5,310.7 1203.5,298.5 1207.5,292.7 1211.5,278.9 1215.5,265.5 1219.5,263.1 1223.5,254.3 1227.5,249.7 1231.5,255.3 1235.5,260.3 1239.5,259.3 1243.5,260.9 1247.5,261.3 1251.5,262.3 1255.5,262.9 1259.5,267.1 1263.5,269.9 1267.5,268.9 1271.5,265.3 1275.5,259.7 1279.5,254.7 1283.5,245.1 1287.5,236.3 1291.5,226.1 1295.5,220.3 1299.5,217.3 1303.5,219.5" fill="none" stroke="#ffa500" stroke-width="1" stroke-linejoin="round"/>
</g>
<g clip-path="url(#indclip)">
<polyline points="-0.5,652.2 3.5,655.5 7.5,651.9 11.5,650.5 15.5,649.4 19.5,649.1 23.5,644.0 27.5,651.5 31.5,651.2 35.5,649.1 39.5,650.0 43.5,653.4 47.5,651.6 51.5,655.0 55.5,666.6 59.5,663.0 63.5,665.1 67.5,667.4 71.5,671.1 75.5,665.5 79.5,667.1 83.5,663.1 87.5,658.3 91.5,656.0 95.5,657.5 99.5,659.5 103.5,654.5 107.5,651.5 111.5,650.2 115.5,649.5 119.5,648.4 123.5,656.0 127.5,657.5 131.5,651.0 135.5,653.9 139.5,654.8 143.5,650.9 147.5,654.0 151.5,658.0 155.5,655.1 159.5,648.0 163.5,647.3 167.5,651.3 171.5,649.0 175.5,643.1 179.5,642.4 183.5,650.5 187.5,649.8 191.5,651.7 195.5,646.6 199.5,652.9 203.5,652.5 207.5,653.6 211.5,654.3 215.5,650.2 219.5,651.5 223.5,649.6 227.5,645.5 231.5,653.8 235.5,655.0 239.5,656.2 243.5,651.1 247.5,661.9 251.5,651.7 255.5,652.7 259.5,649.2 263.5,644.6 267.5,642.9 271.5,636.4 275.5,644.0 279.5,642.8 283.5,642.1 287.5,641.8 291.5,648.1 295.5,641.4 299.5,644.6 303.5,645.4 307.5,645.0 311.5,617.0 315.5,619.9 319.5,619.7 323.5,618.8 327.5,616.7 331.5,616.5 335.5,618.3 339.5,620.5 343.5,620.9 347.5,622.9 351.5,627.2 355.5,628.7 359.5,631.1 363.5,628.7 367.5,626.2 371.5,629.5 375.5,628.4 379.5,629.3 383.5,631.6 387.5,631.1 391.5,630.9 395.5,634.0 399.5,628.9 403.5,628.7 407.5,630.4 411.5,638.3 415.5,635.8 419.5,636.4 423.5,635.4 427.5,636.0 431.5,637.2 435.5,651.4 439.5,651.8 443.5,666.0 447.5,660.7 451.5,662.3 455.5,658.4 459.5,656.2 463.5,655.4 467.5,656.8 471.5,658.5 475.5,659.2 479.5,661.4 483.5,651.8 487.5,650.4 491.5,654.5 495.5,645.2 499.5,646.5 503.5,648.7 507.5,647.0 511.5,655.8 515.5,655.8 519.5,651.2 523.5,652.4 527.5,654.1 531.5,651.5 535.5,654.2 539.5,649.6 543.5,649.6 547.5,650.1 551.5,650.7 555.5,647.7 559.5,654.4 563.5,656.4 567.5,648.6 571.5,649.2 575.5,643.3 579.5,645.2 583.5,645.2 587.5,637.2 591.5,620.7 595.5,619.3 599.5,609.6 603.5,622.1 607.5,619.5 611.5,625.4 615.5,622.4 619.5,623.5 623.5,623.2 627.5,642.6 631.5,637.9 635.5,638.5 639.5,638.7 643.5,639.1 647.5,636.4 651.5,635.1 655.5,636.9 659.5,632.9 663.5,628.3 667.5,627.5 671.5,623.8 675.5,625.8 679.5,625.4 683.5,631.4 687.5,629.7 691.5,629.2 695.5,626.1 699.5,628.3 703.5,638.3 707.5,640.0 711.5,646.5 715.5,648.5 719.5,645.3 723.5,647.5 727.5,646.8 731.5,657.0 735.5,662.4 739.5,659.4 743.5,654.2 747.5,649.5 751.5,650.9 755.5,647.0 759.5,649.7 763.5,644.0 767.5,643.8 771.5,645.5 775.5,640.7 779.5,641.7 783.5,640.3 787.5,637.9 791.5,639.8 795.5,638.3 799.5,639.6 803.5,645.0 807.5,649.1 811.5,651.0 815.5,644.5 819.5,639.0 823.5,643.5 827.5,652.5 831.5,657.2 835.5,658.3 839.5,659.5 843.5,655.4 847.5,651.3 851.5,655.0 855.5,655.9 859.5,656.8 863.5,658.0 867.5,656.3 871.5,658.9 875.5,657.0 879.5,660.2 883.5,661.7 887.5,656.9 891.5,656.5 895.5,659.1 899.5,662.2 903.5,664.0 907.5,661.7 911.5,665.2 915.5,671.1 919.5,671.9 923.5,675.9 927.5,667.2 931.5,668.2 935.5,659.0 939.5,659.0 943.5,653.4 947.5,653.4 951.5,660.6 955.5,659.5 959.5,651.2 963.5,649.9 967.5,647.9 971.5,649.3 975.5,644.6 979.5,646.1 983.5,650.5 987.5,654.5 991.5,654.5 995.5,648.9 999.5,650.4 1003.5,648.8 1007.5,644.6 1011.5,634.9 1015.5,645.6 1019.5,647.5 1023.5,651.1 1027.5,653.2 1031.5,648.7 1035.5,651.3 1039.5,649.6 1043.5,664.0 1047.5,653.1 1051.5,655.5 1055.5,658.3 1059.5,657.3 1063.5,655.2 1067.5,654.2 1071.5,655.6 1075.5,653.5 1079.5,651.8 1083.5,652.7 1087.5,653.7 1091.5,657.8 1095.5,656.1 1099.5,657.1 1103.5,661.5 1107.5,665.1 1111.5,666.8 1115.5,665.8 1119.5,663.6 1123.5,662.5 1127.5,659.1 1131.5,667.6 1135.5,667.1 1139.5,671.3 1143.5,674.2 1147.5,674.6 1151.5,678.8 1155.5,679.6 1159.5,674.3 1163.5,677.2 1167.5,678.9 1171.5,677.7 1175.5,675.3 1179.5,657.3 1183.5,655.3 1187.5,646.1 1191.5,648.4 1195.5,647.8 1199.5,634.3 1203.5,639.0 1207.5,640.6 1211.5,633.8 1215.5,633.8 1219.5,634.5 1223.5,630.9 1227.5,640.0 1231.5,645.4 1235.5,644.6 1239.5,638.2 1243.5,637.2 1247.5,643.5 1251.5,649.2 1255.5,647.9 1259.5,645.3 1263.5,642.3 1267.5,642.7 1271.5,645.3 1275.5,641.3 1279.5,639.5 1283.5,632.0 1287.5,633.8 1291.5,634.2 1295.5,637.0 1299.5,639.7 1303.5,637.3" fill="none" stroke="#1e90ff" stroke-width="1"/>
<rect x="3" y="766" width="1" height="24" fill="#c0c0c0"/>
<rect x="7" y="766" width="1" height="21" fill="#c0c0c0"/>
<rect x="11" y="766" width="1" height="18" fill="#c0c0c0"/>
<rect x="15" y="766" width="1" height="16" fill="#c0c0c0"/>
<rect x="19" y="766" width="1" height="13" fill="#c0c0c0"/>
<rect x="23" y="766" width="1" height="10" fill="#c0c0c0"/>
<rect x="27" y="766" width="1" height="9" fill="#c0c0c0"/>
<rect x="31" y="766" width="1" height="9" fill="#c0c0c0"/>
<rect x="35" y="766" width="1" height="7" fill="#c0c0c0"/>
<rect x="39" y="766" width="1" height="7" fill="#c0c0c0"/>
<rect x="43" y="766" width="1" height="7" fill="#c0c0c0"/>
<rect x="47" y="766" width="1" height="6" fill="#c0c0c0"/>
<rect x="51" y="766" width="1" height="7" fill="#c0c0c0"/>
<rect x="55" y="766" width="1" height="11" fill="#c0c0c0"/>
<rect x="59" y="766" width="1" height="14" fill="#c0c0c0"/>
<rect x="63" y="766" width="1" height="16" fill="#c0c0c0"/>
<rect x="67" y="766" width="1" height="19" fill="#c0c0c0"/>
<rect x="71" y="766" width="1" height="23" fill="#c0c0c0"/>
<rect x="75" y="766" width="1" height="24" fill="#c0c0c0"/>
<rect x="79" y="766" width="1" height="26" fill="#c0c0c0"/>
<rect x="83" y="766" width="1" height="26" fill="#c0c0c0"/>
<rect x="87" y="766" width="1" height="25" fill="#c0c0c0"/>
<rect x="91" y="766" width="1" height="23" fill="#c0c0c0"/>
<rect x="95" y="766" width="1" height="22" fill="#c0c0c0"/>
<rect x="99" y="766" width="1" height="21" fill="#c0c0c0"/>
<rect x="103" y="766" width="1" height="19" fill="#c0c0c0"/>
<rect x="107" y="766" width="1" height="17" fill="#c0c0c0"/>
<rect x="111" y="766" width="1" height="15" fill="#c0c0c0"/>
<rect x="115" y="766" width="1" height="13" fill="#c0c0c0"/>
<rect x="119" y="766" width="1" height="11" fill="#c0c0c0"/>
<rect x="123" y="766" width="1" height="11" fill="#c0c0c0"/>
<rect x="127" y="766" width="1" height="11" fill="#c0c0c0"/>
<rect x="131" y="766" width="1" height="10" fill="#c0c0c0"/>
<rect x="135" y="766" width="1" height="10" fill="#c0c0c0"/>
<rect x="139" y="766" width="1" height="10" fill="#c0c0c0"/>
<rect x="143" y="766" width="1" height="9" fill="#c0c0c0"/>
<rect x="147" y="766" width="1" height="8" fill="#c0c0c0"/>
<rect x="151" y="766" width="1" height="9" fill="#c0c0c0"/>
<rect x="155" y="766" width="1" height="9" fill="#c0c0c0"/>
<rect x="159" y="766" width="1" height="8" fill="#c0c0c0"/>
<rect x="163" y="766" width="1" height="6" fill="#c0c0c0"/>
<rect x="167" y="766" width="1" height="6" fill="#c0c0c0"/>
<rect x="171" y="766" width="1" height="5" fill="#c0c0c0"/>
<rect x="175" y="766" width="1" height="3" fill="#c0c0c0"/>
<rect x="179" y="766" width="1" height="1" fill="#c0c0c0"/>
<rect x="183" y="766" width="1" height="2" fill="#c0c0c0"/>
<rect x="187" y="766" width="1" height="2" fill="#c0c0c0"/>
<rect x="191" y="766" width="1" height="2" fill="#c0c0c0"/>
<rect x="195" y="766" width="1" height="1" fill="#c0c0c0"/>
<rect x="199" y="766" width="1" height="2" fill="#c0c0c0"/>
<rect x="203" y="766" width="1" height="3" fill="#c0c0c0"/>
<rect x="207" y="766" width="1" height="3" fill="#c0c0c0"/>
<rect x="211" y="766" width="1" height="4" fill="#c0c0c0"/>
<rect x="215" y="766" width="1" height="4" fill="#c0c0c0"/>
<rect x="219" y="766" width="1" height="4" fill="#c0c0c0"/>
<rect x="223" y="766" width="1" height="3" fill="#c0c0c0"/>
<rect x="227" y="766" width="1" height="2" fill="#c0c0c0"/>
<rect x="231" y="766" width="1" height="3" fill="#c0c0c0"/>
<rect x="235" y="766" width="1" height="4" fill="#c0c0c0"/>
<rect x="239" y="766" width="1" height="5" fill="#c0c0c0"/>
<rect x="243" y="766" width="1" height="4" fill="#c0c0c0"/>
<rect x="247" y="766" width="1" height="7" fill="#c0c0c0"/>
<rect x="251" y="766" width="1" height="6" fill="#c0c0c0"/>
<rect x="255" y="766" width="1" height="6" fill="#c0c0c0"/>
<rect x="259" y="766" width="1" height="5" fill="#c0c0c0"/>
<rect x="263" y="766" width="1" height="4" fill="#c0c0c0"/>
<rect x="267" y="766" width="1" height="2" fill="#c0c0c0"/>
<rect x="271" y="764" width="1" height="3" fill="#c0c0c0"/>
<rect x="275" y="763" width="1" height="4" fill="#c0c0c0"/>
<rect x="279" y="762" width="1" height="5" fill="#c0c0c0"/>
<rect x="283" y="761" width="1" height="6" fill="#c0c0c0"/>
<rect x="287" y="760" width="1" height="7" fill="#c0c0c0"/>
<rect x="291" y="761" width="1" height="6" fill="#c0c0c0"/>
<rect x="295" y="760" width="1" height="7" fill="#c0c0c0"/>
<rect x="299" y="760" width="1" height="7" fill="#c0c0c0"/>
<rect x="303" y="760" width="1" height="7" fill="#c0c0c0"/>
<rect x="307" y="760" width="1" height="7" fill="#c0c0c0"/>
<rect x="311" y="747" width="1" height="20" fill="#c0c0c0"/>
<rect x="315" y="737" width="1" height="30" fill="#c0c0c0"/>
<rect x="319" y="730" width="1" height="37" fill="#c0c0c0"/>
<rect x="323" y="723" width="1" height="44" fill="#c0c0c0"/>
<rect x="327" y="717" width="1" height="50" fill="#c0c0c0"/>
<rect x="331" y="712" width="1" height="55" fill="#c0c0c0"/>
<rect x="335" y="710" width="1" height="57" fill="#c0c0c0"/>
<rect x="339" y="709" width="1" height="58" fill="#c0c0c0"/>
<rect x="343" y="709" width="1" height="58" fill="#c0c0c0"/>
<rect x="347" y="710" width="1" height="57" fill="#c0c0c0"/>
<rect x="351" y="712" width="1" height="55" fill="#c0c0c0"/>
<rect x="355" y="715" width="1" height="52" fill="#c0c0c0"/>
<rect x="359" y="718" width="1" height="49" fill="#c0c0c0"/>
<rect x="363" y="720" width="1" height="47" fill="#c0c0c0"/>
<rect x="367" y="721" width="1" height="46" fill="#c0c0c0"/>
<rect x="371" y="723" width="1" height="44" fill="#c0c0c0"/>
<rect x="375" y="724" width="1" height="43" fill="#c0c0c0"/>
<rect x="379" y="726" width="1" height="41" fill="#c0c0c0"/>
<rect x="383" y="728" width="1" height="39" fill="#c0c0c0"/>
<rect x="387" y="730" width="1" height="37" fill="#c0c0c0"/>
<rect x="391" y="732" width="1" height="35" fill="#c0c0c0"/>
<rect x="395" y="735" width="1" height="32" fill="#c0c0c0"/>
<rect x="399" y="735" width="1" height="32" fill="#c0c0c0"/>
<rect x="403" y="736" width="1" height="31" fill="#c0c0c0"/>
<rect x="407" y="737" width="1" height="30" fill="#c0c0c0"/>
<rect x="411" y="740" width="1" height="27" fill="#c0c0c0"/>
<rect x="415" y="741" width="1" height="26" fill="#c0c0c0"/>
<rect x="419" y="743" width="1" height="24" fill="#c0c0c0"/>
<rect x="423" y="744" width="1" height="23" fill="#c0c0c0"/>
<rect x="427" y="746" width="1" height="21" fill="#c0c0c0"/>
<rect x="431" y="747" width="1" height="20" fill="#c0c0c0"/>
<rect x="435" y="750" width="1" height="17" fill="#c0c0c0"/>
<rect x="439" y="753" width="1" height="14" fill="#c0c0c0"/>
<rect x="443" y="760" width="1" height="7" fill="#c0c0c0"/>
<rect x="447" y="763" width="1" height="4" fill="#c0c0c0"/>
<rect x="451" y="766" width="1" height="2" fill="#c0c0c0"/>
<rect x="455" y="766" width="1" height="4" fill="#c0c0c0"/>
<rect x="459" y="766" width="1" height="5" fill="#c0c0c0"/>
<rect x="463" y="766" width="1" height="6" fill="#c0c0c0"/>
<rect x="467" y="766" width="1" height="7" fill="#c0c0c0"/>
<rect x="471" y="766" width="1" height="8" fill="#c0c0c0"/>
<rect x="475" y="766" width="1" height="8" fill="#c0c0c0"/>
<rect x="479" y="766" width="1" height="10" fill="#c0c0c0"/>
<rect x="483" y="766" width="1" height="9" fill="#c0c0c0"/>
<rect x="487" y="766" width="1" height="8" fill="#c0c0c0"/>
<rect x="491" y="766" width="1" height="8" fill="#c0c0c0"/>
<rect x="495" y="766" width="1" height="6" fill="#c0c0c0"/>
<rect x="499" y="766" width="1" height="5" fill="#c0c0c0"/>
<rect x="503" y="766" width="1" height="4" fill="#c0c0c0"/>
<rect x="507" y="766" width="1" height="3" fill="#c0c0c0"/>
<rect x="511" y="766" width="1" height="4" fill="#c0c0c0"/>
<rect x="515" y="766" width="1" height="5" fill="#c0c0c0"/>
<rect x="519" y="766" width="1" height="5" fill="#c0c0c0"/>
<rect x="523" y="766" width="1" height="5" fill="#c0c0c0"/>
<rect x="527" y="766" width="1" height="5" fill="#c0c0c0"/>
<rect x="531" y="766" width="1" height="5" fill="#c0c0c0"/>
<rect x="535" y="766" width="1" height="5" fill="#c0c0c0"/>
<rect x="539" y="766" width="1" height="5" fill="#c0c0c0"/>
<rect x="543" y="766" width="1" height="4" fill="#c0c0c0"/>
<rect x="547" y="766" width="1" height="4" fill="#c0c0c0"/>
<rect x="551" y="766" width="1" height="4" fill="#c0c0c0"/>
<rect x="555" y="766" width="1" height="3" fill="#c0c0c0"/>
<rect x="559" y="766" width="1" height="4" fill="#c0c0c0"/>
<rect x="563" y="766" width="1" height="4" fill="#c0c0c0"/>
<rect x="567" y="766" width="1" height="4" fill="#c0c0c0"/>
<rect x="571" y="766" width="1" height="3" fill="#c0c0c0"/>
<rect x="575" y="766" width="1" height="2" fill="#c0c0c0"/>
<rect x="579" y="766" width="1" height="1" fill="#c0c0c0"/>
<rect x="583" y="766" width="1" height="1" fill="#c0c0c0"/>
<rect x="587" y="764" width="1" height="3" fill="#c0c0c0"/>
<rect x="591" y="758" width="1" height="9" fill="#c0c0c0"/>
<rect x="595" y="752" width="1" height="15" fill="#c0c0c0"/>
<rect x="599" y="739" width="1" height="28" fill="#c0c0c0"/>
<rect x="603" y="732" width="1" height="35" fill="#c0c0c0"/>
<rect x="607" y="724" width="1" height="43" fill="#c0c0c0"/>
<rect x="611" y="721" width="1" height="46" fill="#c0c0c0"/>
<rect x="615" y="716" width="1" height="51" fill="#c0c0c0"/>
<rect x="619" y="713" width="1" height="54" fill="#c0c0c0"/>
<rect x="623" y="710" width="1" height="57" fill="#c0c0c0"/>
<rect x="627" y="716" width="1" height="51" fill="#c0c0c0"/>
<rect x="631" y="718" width="1" height="49" fill="#c0c0c0"/>
<rect x="635" y="721" width="1" height="46" fill="#c0c0c0"/>
<rect x="639" y="723" width="1" height="44" fill="#c0c0c0"/>
<rect x="643" y="726" width="1" height="41" fill="#c0c0c0"/>
<rect x="647" y="727" width="1" height="40" fill="#c0c0c0"/>
<rect x="651" y="727" width="1" height="40" fill="#c0c0c0"/>
<rect x="655" y="729" width="1" height="38" fill="#c0c0c0"/>
<rect x="659" y="728" width="1" height="39" fill="#c0c0c0"/>
<rect x="663" y="725" width="1" height="42" fill="#c0c0c0"/>
<rect x="667" y="723" width="1" height="44" fill="#c0c0c0"/>
<rect x="671" y="719" width="1" height="48" fill="#c0c0c0"/>
<rect x="675" y="717" width="1" height="50" fill="#c0c0c0"/>
<rect x="679" y="715" width="1" height="52" fill="#c0c0c0"/>
<rect x="683" y="716" width="1" height="51" fill="#c0c0c0"/>
<rect x="687" y="717" width="1" height="50" fill="#c0c0c0"/>
<rect x="691" y="717" width="1" height="50" fill="#c0c0c0"/>
<rect x="695" y="717" width="1" height="50" fill="#c0c0c0"/>
<rect x="699" y="717" width="1" height="50" fill="#c0c0c0"/>
<rect x="703" y="721" width="1" height="46" fill="#c0c0c0"/>
<rect x="707" y="725" width="1" height="42" fill="#c0c0c0"/>
<rect x="711" y="730" width="1" height="37" fill="#c0c0c0"/>
<rect x="715" y="736" width="1" height="31" fill="#c0c0c0"/>
<rect x="719" y="739" width="1" height="28" fill="#c0c0c0"/>
<rect x="723" y="743" width="1" height="24" fill="#c0c0c0"/>
<rect x="727" y="746" width="1" height="21" fill="#c0c0c0"/>
<rect x="731" y="752" width="1" height="15" fill="#c0c0c0"/>
<rect x="735" y="760" width="1" height="7" fill="#c0c0c0"/>
<rect x="739" y="765" width="1" height="2" fill="#c0c0c0"/>
<rect x="743" y="766" width="1" height="2" fill="#c0c0c0"/>
<rect x="747" y="766" width="1" height="3" fill="#c0c0c0"/>
<rect x="751" y="766" width="1" height="3" fill="#c0c0c0"/>
<rect x="755" y="766" width="1" height="2" fill="#c0c0c0"/>
<rect x="759" y="766" width="1" height="2" fill="#c0c0c0"/>
<rect x="763" y="765" width="1" height="2" fill="#c0c0c0"/>
<rect x="767" y="763" width="1" height="4" fill="#c0c0c0"/>
<rect x="771" y="763" width="1" height="4" fill="#c0c0c0"/>
<rect x="775" y="760" width="1" height="7" fill="#c0c0c0"/>
<rect x="779" y="759" width="1" height="8" fill="#c0c0c0"/>
<rect x="783" y="757" width="1" height="10" fill="#c0c0c0"/>
<rect x="787" y="755" width="1" height="12" fill="#c0c0c0"/>
<rect x="791" y="754" width="1" height="13" fill="#c0c0c0"/>
<rect x="795" y="752" width="1" height="15" fill="#c0c0c0"/>
<rect x="799" y="752" width="1" height="15" fill="#c0c0c0"/>
<rect x="803" y="753" width="1" height="14" fill="#c0c0c0"/>
<rect x="807" y="755" width="1" height="12" fill="#c0c0c0"/>
<rect x="811" y="757" width="1" height="10" fill="#c0c0c0"/>
<rect x="815" y="757" width="1" height="10" fill="#c0c0c0"/>
<rect x="819" y="756" width="1" height="11" fill="#c0c0c0"/>
<rect x="823" y="756" width="1" height="11" fill="#c0c0c0"/>
<rect x="827" y="758" width="1" height="9" fill="#c0c0c0"/>
<rect x="831" y="763" width="1" height="4" fill="#c0c0c0"/>
<rect x="835" y="766" width="1" height="1" fill="#c0c0c0"/>
<rect x="839" y="766" width="1" height="5" fill="#c0c0c0"/>
<rect x="843" y="766" width="1" height="6" fill="#c0c0c0"/>
<rect x="847" y="766" width="1" height="6" fill="#c0c0c0"/>
<rect x="851" y="766" width="1" height="7" fill="#c0c0c0"/>
<rect x="855" y="766" width="1" height="9" fill="#c0c0c0"/>
<rect x="859" y="766" width="1" height="10" fill="#c0c0c0"/>
<rect x="863" y="766" width="1" height="11" fill="#c0c0c0"/>
<rect x="867" y="766" width="1" height="11" fill="#c0c0c0"/>
<rect x="871" y="766" width="1" height="12" fill="#c0c0c0"/>
<rect x="875" y="766" width="1" height="13" fill="#c0c0c0"/>
<rect x="879" y="766" width="1" height="14" fill="#c0c0c0"/>
<rect x="883" y="766" width="1" height="15" fill="#c0c0c0"/>
<rect x="887" y="766" width="1" height="14" fill="#c0c0c0"/>
<rect x="891" y="766" width="1" height="14" fill="#c0c0c0"/>
<rect x="895" y="766" width="1" height="14" fill="#c0c0c0"/>
<rect x="899" y="766" width="1" height="15" fill="#c0c0c0"/>
<rect x="903" y="766" width="1" height="16" fill="#c0c0c0"/>
<rect x="907" y="766" width="1" height="17" fill="#c0c0c0"/>
<rect x="911" y="766" width="1" height="18" fill="#c0c0c0"/>
<rect x="915" y="766" width="1" height="20" fill="#c0c0c0"/>
<rect x="919" y="766" width="1" height="23" fill="#c0c0c0"/>
<rect x="923" y="766" width="1" height="26" fill="#c0c0c0"/>
<rect x="927" y="766" width="1" height="27" fill="#c0c0c0"/>
<rect x="931" y="766" width="1" height="28" fill="#c0c0c0"/>
<rect x="935" y="766" width="1" height="26" fill="#c0c0c0"/>
<rect x="939" y="766" width="1" height="25" fill="#c0c0c0"/>
<rect x="943" y="766" width="1" height="22" fill="#c0c0c0"/>
<rect x="947" y="766" width="1" height="20" fill="#c0c0c0"/>
<rect x="951" y="766" width="1" height="20" fill="#c0c0c0"/>
<rect x="955" y="766" width="1" height="19" fill="#c0c0c0"/>
<rect x="959" y="766" width="1" height="17" fill="#c0c0c0"/>
<rect x="963" y="766" width="1" height="15" fill="#c0c0c0"/>
<rect x="967" y="766" width="1" height="12" fill="#c0c0c0"/>
<rect x="971" y="766" width="1" height="10" fill="#c0c0c0"/>
<rect x="975" y="766" width="1" height="8" fill="#c0c0c0"/>
<rect x="979" y="766" width="1" height="6" fill="#c0c0c0"/>
<rect x="983" y="766" width="1" height="6" fill="#c0c0c0"/>
<rect x="987" y="766" width="1" height="6" fill="#c0c0c0"/>
<rect x="991" y="766" width="1" height="6" fill="#c0c0c0"/>
<rect x="995" y="766" width="1" height="6" fill="#c0c0c0"/>
<rect x="999" y="766" width="1" height="5" fill="#c0c0c0"/>
<rect x="1003" y="766" width="1" height="4" fill="#c0c0c0"/>
<rect x="1007" y="766" width="1" height="3" fill="#c0c0c0"/>
<rect x="1011" y="764" width="1" height="3" fill="#c0c0c0"/>
<rect x="1015" y="764" width="1" height="3" fill="#c0c0c0"/>
<rect x="1019" y="764" width="1" height="3" fill="#c0c0c0"/>
<rect x="1023" y="764" width="1" height="3" fill="#c0c0c0"/>
<rect x="1027" y="766" width="1" height="1" fill="#c0c0c0"/>
<rect x="1031" y="766" width="1" height="1" fill="#c0c0c0"/>
<rect x="1035" y="766" width="1" height="1" fill="#c0c0c0"/>
<rect x="1039" y="766" width="1" height="1" fill="#c0c0c0"/>
<rect x="1043" y="766" width="1" height="6" fill="#c0c0c0"/>
<rect x="1047" y="766" width="1" height="6" fill="#c0c0c0"/>
<rect x="1051" y="766" width="1" height="8" fill="#c0c0c0"/>
<rect x="1055" y="766" width="1" height="10" fill="#c0c0c0"/>
<rect x="1059" y="766" width="1" height="11" fill="#c0c0c0"/>
<rect x="1063" y="766" width="1" height="11" fill="#c0c0c0"/>
<rect x="1067" y="766" width="1" height="11" fill="#c0c0c0"/>
<rect x="1071" y="766" width="1" height="11" fill="#c0c0c0"/>
<rect x="1075" y="766" width="1" height="11" fill="#c0c0c0"/>
<rect x="1079" y="766" width="1" height="10" fill="#c0c0c0"/>
<rect x="1083" y="766" width="1" height="9" fill="#c0c0c0"/>
<rect x="1087" y="766" width="1" height="9" fill="#c0c0c0"/>
<rect x="1091" y="766" width="1" height="10" fill="#c0c0c0"/>
<rect x="1095" y="766" width="1" height="10" fill="#c0c0c0"/>
<rect x="1099" y="766" width="1" height="10" fill="#c0c0c0"/>
<rect x="1103" y="766" width="1" height="11" fill="#c0c0c0"/>
<rect x="1107" y="766" width="1" height="13" fill="#c0c0c0"/>
<rect x="1111" y="766" width="1" height="15" fill="#c0c0c0"/>
<rect x="1115" y="766" width="1" height="16" fill="#c0c0c0"/>
<rect x="1119" y="766" width="1" height="16" fill="#c0c0c0"/>
<rect x="1123" y="766" width="1" height="16" fill="#c0c0c0"/>
<rect x="1127" y="766" width="1" height="16" fill="#c0c0c0"/>
<rect x="1131" y="766" width="1" height="17" fill="#c0c0c0"/>
<rect x="1135" y="766" width="1" height="18" fill="#c0c0c0"/>
<rect x="1139" y="766" width="1" height="20" fill="#c0c0c0"/>
<rect x="1143" y="766" width="1" height="22" fill="#c0c0c0"/>
<rect x="1147" y="766" width="1" height="24" fill="#c0c0c0"/>
<rect x="1151" y="766" width="1" height="27" fill="#c0c0c0"/>
<rect x="1155" y="766" width="1" height="30" fill="#c0c0c0"/>
<rect x="1159" y="766" width="1" height="30" fill="#c0c0c0"/>
<rect x="1163" y="766" width="1" height="32" fill="#c0c0c0"/>
<rect x="1167" y="766" width="1" height="34" fill="#c0c0c0"/>
<rect x="1171" y="766" width="1" height="35" fill="#c0c0c0"/>
<rect x="1175" y="766" width="1" height="35" fill="#c0c0c0"/>
<rect x="1179" y="766" width="1" height="31" fill="#c0c0c0"/>
<rect x="1183" y="766" width="1" height="28" fill="#c0c0c0"/>
<rect x="1187" y="766" width="1" height="23" fill="#c0c0c0"/>
<rect x="1191" y="766" width="1" height="19" fill="#c0c0c0"/>
<rect x="1195" y="766" width="1" height="16" fill="#c0c0c0"/>
<rect x="1199" y="766" width="1" height="9" fill="#c0c0c0"/>
<rect x="1203" y="766" width="1" height="5" fill="#c0c0c0"/>
<rect x="1207" y="766" width="1" height="2" fill="#c0c0c0"/>
<rect x="1211" y="762" width="1" height="5" fill="#c0c0c0"/>
<rect x="1215" y="758" width="1" height="9" fill="#c0c0c0"/>
<rect x="1219" y="755" width="1" height="12" fill="#c0c0c0"/>
<rect x="1223" y="752" width="1" height="15" fill="#c0c0c0"/>
<rect x="1227" y="751" width="1" height="16" fill="#c0c0c0"/>
<rect x="1231" y="752" width="1" height="15" fill="#c0c0c0"/>
<rect x="1235" y="753" width="1" height="14" fill="#c0c0c0"/>
<rect x="1239" y="752" width="1" height="15" fill="#c0c0c0"/>
<rect x="1243" y="751" width="1" height="16" fill="#c0c0c0"/>
<rect x="1247" y="751" width="1" height="16" fill="#c0c0c0"/>
<rect x="1251" y="754" width="1" height="13" fill="#c0c0c0"/>
<rect x="1255" y="755" width="1" height="12" fill="#c0c0c0"/>
<rect x="1259" y="756" width="1" height="11" fill="#c0c0c0"/>
<rect x="1263" y="755" width="1" height="12" fill="#c0c0c0"/>
<rect x="1267" y="755" width="1" height="12" fill="#c0c0c0"/>
<rect x="1271" y="756" width="1" height="11" fill="#c0c0c0"/>
<rect x="1275" y="756" width="1" height="11" fill="#c0c0c0"/>
<rect x="1279" y="755" width="1" height="12" fill="#c0c0c0"/>
<rect x="1283" y="751" width="1" height="16" fill="#c0c0c0"/>
<rect x="1287" y="749" width="1" height="18" fill="#c0c0c0"/>
<rect x="1291" y="748" width="1" height="19" fill="#c0c0c0"/>
<rect x="1295" y="748" width="1" height="19" fill="#c0c0c0"/>
<rect x="1299" y="748" width="1" height="19" fill="#c0c0c0"/>
<rect x="1303" y="748" width="1" height="19" fill="#c0c0c0"/>
<polyline points="-0.5,793.6 3.5,793.7 7.5,793.2 11.5,792.2 15.5,790.8 19.5,789.0 23.5,786.6 27.5,784.1 31.5,781.8 35.5,779.7 39.5,777.8 43.5,776.2 47.5,774.8 51.5,773.8 55.5,773.6 59.5,774.0 63.5,774.8 67.5,776.0 71.5,777.7 75.5,779.7 79.5,781.8 83.5,784.0 87.5,786.0 91.5,787.3 95.5,788.2 99.5,788.7 103.5,788.8 107.5,788.1 111.5,787.1 115.5,785.6 119.5,783.9 123.5,782.3 127.5,781.0 131.5,779.7 135.5,778.4 139.5,777.4 143.5,776.4 147.5,775.7 151.5,775.3 155.5,775.2 159.5,774.8 163.5,774.3 167.5,773.8 171.5,773.3 175.5,772.6 179.5,771.8 183.5,771.0 187.5,770.2 191.5,769.4 195.5,768.7 199.5,768.2 203.5,767.9 207.5,767.7 211.5,767.7 215.5,768.0 219.5,768.2 223.5,768.4 227.5,768.4 231.5,768.6 235.5,768.8 239.5,769.0 243.5,769.1 247.5,769.4 251.5,769.7 255.5,770.0 259.5,770.2 263.5,770.4 267.5,770.3 271.5,769.7 275.5,769.0 279.5,768.2 283.5,767.0 287.5,765.8 291.5,764.7 295.5,763.6 299.5,762.6 303.5,761.8 307.5,761.4 311.5,759.6 315.5,756.9 319.5,753.4 323.5,749.3 327.5,744.4 331.5,739.1 335.5,733.5 339.5,727.8 343.5,722.0 347.5,717.9 351.5,715.1 355.5,713.5 359.5,712.9 363.5,713.2 367.5,714.1 371.5,715.6 375.5,717.3 379.5,719.3 383.5,721.3 387.5,723.4 391.5,725.3 395.5,727.2 399.5,728.9 403.5,730.6 407.5,732.2 411.5,733.9 415.5,735.6 419.5,737.2 423.5,738.7 427.5,740.2 431.5,741.5 435.5,743.2 439.5,745.2 443.5,747.6 447.5,750.2 451.5,753.1 455.5,756.0 459.5,758.9 463.5,761.7 467.5,764.4 471.5,766.9 475.5,769.1 479.5,770.8 483.5,771.9 487.5,772.6 491.5,773.0 495.5,773.1 499.5,773.0 503.5,772.7 507.5,772.2 511.5,771.8 515.5,771.3 519.5,770.8 523.5,770.5 527.5,770.2 531.5,770.1 535.5,770.2 539.5,770.2 543.5,770.3 547.5,770.3 551.5,770.1 555.5,769.9 559.5,769.7 563.5,769.6 567.5,769.5 571.5,769.3 575.5,769.0 579.5,768.6 583.5,768.3 587.5,767.8 591.5,766.7 595.5,764.8 599.5,761.5 603.5,757.4 607.5,752.6 611.5,747.4 615.5,741.8 619.5,735.9 623.5,729.9 627.5,725.3 631.5,721.5 635.5,719.4 639.5,718.4 643.5,718.6 647.5,719.2 651.5,720.5 655.5,722.3 659.5,724.3 663.5,725.3 667.5,725.9 671.5,725.7 675.5,725.0 679.5,723.9 683.5,722.7 687.5,721.6 691.5,720.3 695.5,719.0 699.5,718.1 703.5,717.8 707.5,718.5 711.5,720.0 715.5,722.2 719.5,724.8 723.5,727.7 727.5,730.8 731.5,734.8 735.5,739.6 739.5,744.5 743.5,749.3 747.5,753.4 751.5,757.0 755.5,760.1 759.5,762.8 763.5,764.9 767.5,766.2 771.5,766.5 775.5,765.9 779.5,764.9 783.5,763.7 787.5,762.3 791.5,760.8 795.5,759.1 799.5,757.7 803.5,756.5 807.5,755.7 811.5,755.4 815.5,755.2 819.5,755.1 823.5,755.2 827.5,755.7 831.5,756.9 835.5,758.5 839.5,760.3 843.5,762.1 847.5,763.7 851.5,765.3 855.5,767.3 859.5,769.4 863.5,771.4 867.5,772.9 871.5,774.1 875.5,774.9 879.5,775.8 883.5,776.7 887.5,777.5 891.5,778.1 895.5,778.6 899.5,779.1 903.5,779.6 907.5,780.1 911.5,780.7 915.5,781.4 919.5,782.3 923.5,783.6 927.5,785.0 931.5,786.5 935.5,787.7 939.5,788.6 943.5,789.2 947.5,789.4 951.5,789.3 955.5,789.0 959.5,788.0 963.5,786.6 967.5,784.9 971.5,783.2 975.5,781.4 979.5,779.6 983.5,778.0 987.5,776.5 991.5,775.1 995.5,773.8 999.5,772.8 1003.5,771.9 1007.5,771.1 1011.5,770.1 1015.5,769.3 1019.5,768.5 1023.5,767.7 1027.5,767.1 1031.5,766.6 1035.5,766.1 1039.5,765.8 1043.5,766.1 1047.5,766.9 1051.5,767.9 1055.5,769.1 1059.5,770.4 1063.5,771.6 1067.5,772.7 1071.5,773.8 1075.5,774.8 1079.5,775.3 1083.5,775.6 1087.5,775.7 1091.5,775.7 1095.5,775.6 1099.5,775.5 1103.5,775.6 1107.5,775.8 1111.5,776.3 1115.5,777.0 1119.5,777.8 1123.5,778.6 1127.5,779.3 1131.5,780.1 1135.5,781.0 1139.5,782.0 1143.5,783.0 1147.5,784.0 1151.5,785.2 1155.5,786.7 1159.5,788.2 1163.5,790.0 1167.5,791.9 1171.5,793.7 1175.5,795.3 1179.5,796.3 1183.5,796.7 1187.5,796.3 1191.5,795.1 1195.5,793.5 1199.5,791.0 1203.5,787.8 1207.5,784.2 1211.5,780.0 1215.5,775.7 1219.5,771.5 1223.5,767.5 1227.5,763.8 1231.5,760.6 1235.5,758.3 1239.5,756.3 1243.5,754.5 1247.5,753.3 1251.5,752.8 1255.5,752.8 1259.5,753.3 1263.5,753.7 1267.5,754.1 1271.5,754.4 1275.5,754.8 1279.5,755.3 1283.5,755.3 1287.5,754.8 1291.5,754.0 1295.5,753.2 1299.5,752.4 1303.5,751.6" fill="none" stroke="#ff0000" stroke-width="1" stroke-dasharray="3,3"/>
</g>
<rect x="2.5" y="27.5" width="1637" height="567" fill="none" stroke="#000" stroke-width="1"/>
<rect x="2.5" y="596.5" width="1637" height="104" fill="none" stroke="#000" stroke-width="1"/>
<rect x="2.5" y="702.5" width="1637" height="103" fill="none" stroke="#000" stroke-width="1"/>
<rect x="3" y="46" width="1637" height="2" fill="#ff0000" />
<rect x="3" y="148" width="1637" height="2" fill="#ff0000" />
<rect x="3" y="248" width="1637" height="2" fill="#00ff00" />
<rect x="3" y="366" width="1637" height="2" fill="#0000ff" />
<rect x="3" y="487" width="1637" height="2" fill="#0000ff" />
<rect x="1641" y="482" width="41" height="11" fill="#0000ff" />
<text x="1645" y="491" font-size="10" fill="#fff" stroke="#fff" stroke-width="0.18" textLength="32" lengthAdjust="spacingAndGlyphs" >6.76171</text>
<rect x="1641" y="361" width="41" height="11" fill="#0000ff" />
<text x="1645" y="370" font-size="10" fill="#fff" stroke="#fff" stroke-width="0.18" textLength="32" lengthAdjust="spacingAndGlyphs" >6.88250</text>
<rect x="1641" y="243" width="41" height="11" fill="#00ff00" />
<text x="1645" y="252" font-size="10" fill="#fff" stroke="#fff" stroke-width="0.18" textLength="32" lengthAdjust="spacingAndGlyphs" >7.00029</text>
<rect x="1641" y="143" width="41" height="11" fill="#ff0000" />
<text x="1645" y="152" font-size="10" fill="#fff" stroke="#fff" stroke-width="0.18" textLength="32" lengthAdjust="spacingAndGlyphs" >7.10011</text>
<rect x="1641" y="41" width="41" height="11" fill="#ff0000" />
<text x="1645" y="50" font-size="10" fill="#fff" stroke="#fff" stroke-width="0.18" textLength="32" lengthAdjust="spacingAndGlyphs" >7.20193</text>
<rect x="1641" y="214" width="41" height="11" fill="#000" />
<text x="1645" y="223" font-size="10" fill="#fff" stroke="#fff" stroke-width="0.18" textLength="32" lengthAdjust="spacingAndGlyphs" >7.03042</text>
<rect x="6" y="34" width="7" height="1" fill="#000" />
<rect x="7" y="35" width="5" height="1" fill="#000" />
<rect x="8" y="36" width="3" height="1" fill="#000" />
<rect x="9" y="37" width="1" height="1" fill="#000" />
<text x="18" y="39" font-size="10" fill="#000" stroke="#000" stroke-width="0.18" textLength="65" lengthAdjust="spacingAndGlyphs" >USDCNH,Daily</text>
<text x="89.5" y="39" font-size="10" fill="#000" stroke="#000" stroke-width="0.18" textLength="141.5" lengthAdjust="spacingAndGlyphs" >7.02114 7.03061 7.01980 7.03042</text>
<rect x="1306" y="28" width="9" height="1" fill="#c0c0c0" />
<rect x="1307" y="29" width="7" height="1" fill="#c0c0c0" />
<rect x="1308" y="30" width="5" height="1" fill="#c0c0c0" />
<rect x="1309" y="31" width="3" height="1" fill="#c0c0c0" />
<rect x="1310" y="32" width="1" height="1" fill="#c0c0c0" />
<text x="7.4" y="609" font-size="10" fill="#000" stroke="#000" stroke-width="0.18" textLength="67" lengthAdjust="spacingAndGlyphs" >RSI(14) 61.2464</text>
<line x1="4" y1="628.5" x2="1639" y2="628.5" stroke="#c0c0c0" stroke-width="1" stroke-dasharray="3,3"/>
<line x1="4" y1="669.5" x2="1639" y2="669.5" stroke="#c0c0c0" stroke-width="1" stroke-dasharray="3,3"/>
<text x="1643.5" y="607" font-size="10" fill="#000" stroke="#000" stroke-width="0.18" textLength="14.1" lengthAdjust="spacingAndGlyphs" >100</text>
<text x="1643.5" y="632" font-size="10" fill="#000" stroke="#000" stroke-width="0.18" textLength="9.4" lengthAdjust="spacingAndGlyphs" >70</text>
<text x="1643.5" y="673" font-size="10" fill="#000" stroke="#000" stroke-width="0.18" textLength="9.4" lengthAdjust="spacingAndGlyphs" >30</text>
<text x="1643.5" y="697" font-size="10" fill="#000" stroke="#000" stroke-width="0.18" textLength="4.7" lengthAdjust="spacingAndGlyphs" >0</text>
<rect x="1640" y="598" width="1" height="1" fill="#000" />
<rect x="1640" y="699" width="1" height="1" fill="#000" />
<text x="7.4" y="715" font-size="10" fill="#000" stroke="#000" stroke-width="0.18" textLength="147.5" lengthAdjust="spacingAndGlyphs" >MACD(12,26,9) 0.017906 0.015109</text>
<text x="1643" y="713" font-size="10" fill="#000" stroke="#000" stroke-width="0.18" textLength="38" lengthAdjust="spacingAndGlyphs" >0.063113</text>
<text x="1643" y="770" font-size="10" fill="#000" stroke="#000" stroke-width="0.18" textLength="18" lengthAdjust="spacingAndGlyphs" >0.00</text>
<text x="1643" y="802" font-size="10" fill="#000" stroke="#000" stroke-width="0.18" textLength="42" lengthAdjust="spacingAndGlyphs" >-0.038872</text>
<rect x="1640" y="704" width="1" height="1" fill="#000" />
<rect x="1640" y="766" width="1" height="1" fill="#000" />
<rect x="1640" y="804" width="1" height="1" fill="#000" />
<rect x="3" y="806" width="1" height="3" fill="#000" />
<text x="2.4" y="818" font-size="10" fill="#000" stroke="#000" stroke-width="0.18" textLength="46.3" lengthAdjust="spacingAndGlyphs" >5 Feb 2019</text>
<rect x="67" y="806" width="1" height="3" fill="#000" />
<text x="66.4" y="818" font-size="10" fill="#000" stroke="#000" stroke-width="0.18" textLength="51.6" lengthAdjust="spacingAndGlyphs" >23 Feb 2019</text>
<rect x="131" y="806" width="1" height="3" fill="#000" />
<text x="130.4" y="818" font-size="10" fill="#000" stroke="#000" stroke-width="0.18" textLength="51.3" lengthAdjust="spacingAndGlyphs" >14 Mar 2019</text>
<rect x="195" y="806" width="1" height="3" fill="#000" />
<text x="194.4" y="818" font-size="10" fill="#000" stroke="#000" stroke-width="0.18" textLength="45.8" lengthAdjust="spacingAndGlyphs" >2 Apr 2019</text>
<rect x="259" y="806" width="1" height="3" fill="#000" />
<text x="258.4" y="818" font-size="10" fill="#000" stroke="#000" stroke-width="0.18" textLength="50.7" lengthAdjust="spacingAndGlyphs" >22 Apr 2019</text>
<rect x="323" y="806" width="1" height="3" fill="#000" />
<text x="322.4" y="818" font-size="10" fill="#000" stroke="#000" stroke-width="0.18" textLength="54.7" lengthAdjust="spacingAndGlyphs" >16 May 2019</text>
<rect x="387" y="806" width="1" height="3" fill="#000" />
<text x="386.4" y="818" font-size="10" fill="#000" stroke="#000" stroke-width="0.18" textLength="44.8" lengthAdjust="spacingAndGlyphs" >4 Jun 2019</text>
<rect x="451" y="806" width="1" height="3" fill="#000" />
<text x="450.4" y="818" font-size="10" fill="#000" stroke="#000" stroke-width="0.18" textLength="49.5" lengthAdjust="spacingAndGlyphs" >22 Jun 2019</text>
<rect x="515" y="806" width="1" height="3" fill="#000" />
<text x="514.4" y="818" font-size="10" fill="#000" stroke="#000" stroke-width="0.18" textLength="46" lengthAdjust="spacingAndGlyphs" >11 Jul 2019</text>
<rect x="579" y="806" width="1" height="3" fill="#000" />
<text x="578.4" y="818" font-size="10" fill="#000" stroke="#000" stroke-width="0.18" textLength="46.7" lengthAdjust="spacingAndGlyphs" >30 Jul 2019</text>
<rect x="643" y="806" width="1" height="3" fill="#000" />
<text x="642.4" y="818" font-size="10" fill="#000" stroke="#000" stroke-width="0.18" textLength="52.4" lengthAdjust="spacingAndGlyphs" >17 Aug 2019</text>
<rect x="707" y="806" width="1" height="3" fill="#000" />
<text x="706.4" y="818" font-size="10" fill="#000" stroke="#000" stroke-width="0.18" textLength="47" lengthAdjust="spacingAndGlyphs" >5 Sep 2019</text>
<rect x="771" y="806" width="1" height="3" fill="#000" />
<text x="770.4" y="818" font-size="10" fill="#000" stroke="#000" stroke-width="0.18" textLength="51.7" lengthAdjust="spacingAndGlyphs" >24 Sep 2019</text>
<rect x="835" y="806" width="1" height="3" fill="#000" />
<text x="834.4" y="818" font-size="10" fill="#000" stroke="#000" stroke-width="0.18" textLength="50.4" lengthAdjust="spacingAndGlyphs" >12 Oct 2019</text>
<rect x="899" y="806" width="1" height="3" fill="#000" />
<text x="898.4" y="818" font-size="10" fill="#000" stroke="#000" stroke-width="0.18" textLength="50.8" lengthAdjust="spacingAndGlyphs" >31 Oct 2019</text>
<rect x="963" y="806" width="1" height="3" fill="#000" />
<text x="962.4" y="818" font-size="10" fill="#000" stroke="#000" stroke-width="0.18" textLength="53.5" lengthAdjust="spacingAndGlyphs" >19 Nov 2019</text>
<rect x="1027" y="806" width="1" height="3" fill="#000" />
<text x="1026.4" y="818" font-size="10" fill="#000" stroke="#000" stroke-width="0.18" textLength="46.8" lengthAdjust="spacingAndGlyphs" >7 Dec 2019</text>
<rect x="1091" y="806" width="1" height="3" fill="#000" />
<text x="1090.4" y="818" font-size="10" fill="#000" stroke="#000" stroke-width="0.18" textLength="51.9" lengthAdjust="spacingAndGlyphs" >26 Dec 2019</text>
<rect x="1155" y="806" width="1" height="3" fill="#000" />
<text x="1154.4" y="818" font-size="10" fill="#000" stroke="#000" stroke-width="0.18" textLength="48.7" lengthAdjust="spacingAndGlyphs" >14 Jan 2020</text>
<rect x="1219" y="806" width="1" height="3" fill="#000" />
<text x="1218.4" y="818" font-size="10" fill="#000" stroke="#000" stroke-width="0.18" textLength="45.4" lengthAdjust="spacingAndGlyphs" >1 Feb 2020</text>
<rect x="1283" y="806" width="1" height="3" fill="#000" />
<text x="1282.4" y="818" font-size="10" fill="#000" stroke="#000" stroke-width="0.18" textLength="51.4" lengthAdjust="spacingAndGlyphs" >20 Feb 2020</text>
<rect x="0" y="826" width="1683" height="1" fill="#e0e0e0" />
<rect x="0" y="828" width="1683" height="1" fill="#000" />
<rect x="0" y="829" width="1683" height="1" fill="#fff" />
<rect x="0" y="830" width="1683" height="18" fill="#f0f0f0" />
<rect x="0" y="848" width="1683" height="1" fill="#fff" />
<rect x="0" y="849" width="1683" height="3" fill="#f0f0f0" />
<rect x="0" y="852" width="1683" height="1" fill="#a0a0a0" />
<rect x="0" y="853" width="1683" height="1" fill="#e0e0e0" />
<rect x="403" y="829" width="106" height="20" fill="#fff" />
<rect x="404" y="828" width="104" height="19" fill="#000" />
<rect x="405" y="828" width="102" height="18" fill="#fff" />
<text x="16.3" y="842" font-size="11.3" fill="#6e6e6e" stroke="#6e6e6e" stroke-width="0.12" textLength="79.7" lengthAdjust="spacingAndGlyphs" >EURUSD,Daily</text>
<text x="118.3" y="842" font-size="11.3" fill="#6e6e6e" stroke="#6e6e6e" stroke-width="0.12" textLength="78.7" lengthAdjust="spacingAndGlyphs" >USDCHF,Daily</text>
<text x="218.8" y="842" font-size="11.3" fill="#6e6e6e" stroke="#6e6e6e" stroke-width="0.12" textLength="70.1" lengthAdjust="spacingAndGlyphs" >AUDUSD,H4</text>
<text x="311" y="842" font-size="11.3" fill="#6e6e6e" stroke="#6e6e6e" stroke-width="0.12" textLength="80.8" lengthAdjust="spacingAndGlyphs" >USDCAD,Daily</text>
<text x="414.4" y="842" font-size="11.3" fill="#000" stroke="#000" stroke-width="0.12" textLength="82.6" lengthAdjust="spacingAndGlyphs" >USDCNH,Daily</text>
<text x="520.2" y="842" font-size="11.3" fill="#6e6e6e" stroke="#6e6e6e" stroke-width="0.12" textLength="79.9" lengthAdjust="spacingAndGlyphs" >EURUSD,Daily</text>
<text x="624.2" y="842" font-size="11.3" fill="#6e6e6e" stroke="#6e6e6e" stroke-width="0.12" textLength="80.2" lengthAdjust="spacingAndGlyphs" >GBPUSD,Daily</text>
<text x="728.2" y="842" font-size="11.3" fill="#6e6e6e" stroke="#6e6e6e" stroke-width="0.12" textLength="71.3" lengthAdjust="spacingAndGlyphs" >XAUUSD,M5</text>
<text x="823.2" y="842" font-size="11.3" fill="#6e6e6e" stroke="#6e6e6e" stroke-width="0.12" textLength="49.1" lengthAdjust="spacingAndGlyphs" >HK50,H1</text>
<text x="895" y="842" font-size="11.3" fill="#6e6e6e" stroke="#6e6e6e" stroke-width="0.12" textLength="69" lengthAdjust="spacingAndGlyphs" >UK100,Daily</text>
<rect x="108" y="831" width="1" height="14" fill="#5a5a5a" />
<rect x="208" y="831" width="1" height="14" fill="#5a5a5a" />
<rect x="300" y="831" width="1" height="14" fill="#5a5a5a" />
<rect x="612" y="831" width="1" height="14" fill="#5a5a5a" />
<rect x="716" y="831" width="1" height="14" fill="#5a5a5a" />
<rect x="812" y="831" width="1" height="14" fill="#5a5a5a" />
<rect x="884" y="831" width="1" height="14" fill="#5a5a5a" />
<rect x="976" y="831" width="1" height="14" fill="#5a5a5a" />
<path d="M1658.5 833.5 L1658.5 840.5 L1654.5 837 Z" fill="#9a9a9a" shape-rendering="auto"/>
<path d="M1673.5 833.5 L1673.5 840.5 L1677.5 837 Z" fill="#9a9a9a" shape-rendering="auto"/>
</svg>
</body></html>
